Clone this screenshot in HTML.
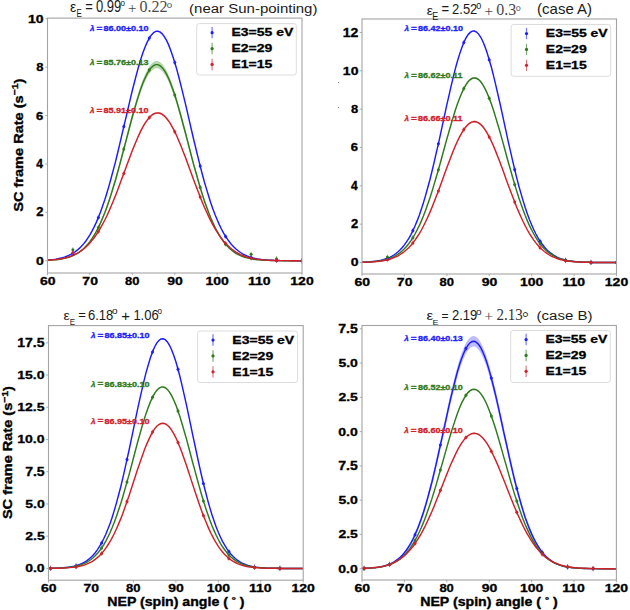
<!DOCTYPE html><html><head><meta charset="utf-8"><style>html,body{margin:0;padding:0;background:#fff;}svg{display:block}</style></head><body><svg width="630" height="610" viewBox="0 0 630 610"><rect width="630" height="610" fill="#fff"/><clipPath id="cTL"><rect x="47.5" y="18.1" width="254.5" height="254.9"/></clipPath>
<g clip-path="url(#cTL)">
<path d="M47.5,260 49.6,259.8 51.7,259.6 53.9,259.4 56,259 58.1,258.7 60.2,258.2 62.3,257.7 64.5,257 66.6,256.3 68.7,255.4 70.8,254.4 72.9,253.2 75.1,251.8 77.2,250.2 79.3,248.3 81.4,246.2 83.6,243.8 85.7,241.2 87.8,238.1 89.9,234.7 92,231 94.2,226.8 96.3,222.3 98.4,217.2 100.5,211.8 102.6,205.9 104.8,199.6 106.9,192.8 109,185.6 111.1,178 113.2,170.1 115.4,161.8 117.5,153.2 119.6,144.3 121.7,135.3 123.8,126.2 126,117 128.1,107.8 130.2,98.8 132.3,90 134.5,81.5 136.6,73.3 138.7,65.6 140.8,58.5 142.9,52.1 145.1,46.4 147.2,41.4 149.3,37.4 151.4,34.2 153.5,31.9 155.7,30.7 157.8,30.4 159.9,31.2 162,32.9 164.1,35.6 166.3,39.2 168.4,43.7 170.5,49 172.6,55.1 174.8,61.9 176.9,69.3 179,77.2 181.1,85.5 183.2,94.2 185.4,103.1 187.5,112.2 189.6,121.4 191.7,130.6 193.8,139.7 196,148.6 198.1,157.3 200.2,165.8 202.3,174 204.4,181.7 206.6,189.1 208.7,196.1 210.8,202.7 212.9,208.8 215,214.5 217.2,219.7 219.3,224.5 221.4,228.9 223.5,232.8 225.6,236.4 227.8,239.6 229.9,242.5 232,245 234.1,247.3 236.3,249.2 238.4,251 240.5,252.5 242.6,253.8 244.7,254.9 246.9,255.9 249,256.7 251.1,257.4 253.2,258 255.3,258.4 257.5,258.9 259.6,259.2 261.7,259.5 263.8,259.7 265.9,259.9 268.1,260.1 270.2,260.2 272.3,260.3 274.4,260.4 276.5,260.5 278.7,260.5 280.8,260.6 282.9,260.6 285,260.6 287.2,260.6 289.3,260.6 291.4,260.7 293.5,260.7 295.6,260.7 297.8,260.7 299.9,260.7 302,260.7 302,260.7 299.9,260.7 297.8,260.7 295.6,260.7 293.5,260.7 291.4,260.7 289.3,260.6 287.2,260.6 285,260.6 282.9,260.6 280.8,260.6 278.7,260.5 276.5,260.5 274.4,260.4 272.3,260.3 270.2,260.2 268.1,260.1 265.9,259.9 263.8,259.7 261.7,259.5 259.6,259.2 257.5,258.9 255.3,258.5 253.2,258 251.1,257.4 249,256.7 246.9,255.9 244.7,254.9 242.6,253.8 240.5,252.5 238.4,251 236.3,249.3 234.1,247.4 232,245.1 229.9,242.6 227.8,239.8 225.6,236.6 223.5,233 221.4,229.1 219.3,224.7 217.2,220 215,214.8 212.9,209.1 210.8,203.1 208.7,196.5 206.6,189.6 204.4,182.2 202.3,174.5 200.2,166.4 198.1,158 196,149.3 193.8,140.4 191.7,131.4 189.6,122.3 187.5,113.1 185.4,104.1 183.2,95.2 181.1,86.6 179,78.3 176.9,70.5 174.8,63.1 172.6,56.4 170.5,50.4 168.4,45.1 166.3,40.6 164.1,37 162,34.3 159.9,32.6 157.8,31.9 155.7,32.1 153.5,33.4 151.4,35.6 149.3,38.8 147.2,42.8 145.1,47.7 142.9,53.4 140.8,59.8 138.7,66.9 136.6,74.5 134.5,82.6 132.3,91.1 130.2,99.8 128.1,108.8 126,117.9 123.8,127 121.7,136.1 119.6,145.1 117.5,153.9 115.4,162.4 113.2,170.7 111.1,178.6 109,186.1 106.9,193.3 104.8,200 102.6,206.3 100.5,212.1 98.4,217.5 96.3,222.5 94.2,227 92,231.2 89.9,234.9 87.8,238.3 85.7,241.3 83.6,244 81.4,246.3 79.3,248.4 77.2,250.2 75.1,251.8 72.9,253.2 70.8,254.4 68.7,255.4 66.6,256.3 64.5,257.1 62.3,257.7 60.2,258.2 58.1,258.7 56,259.1 53.9,259.4 51.7,259.6 49.6,259.8 47.5,260Z" fill="#b2b2fc" opacity="0.85"/>
<path d="M47.5,260.3 49.6,260.2 51.7,260 53.9,259.8 56,259.6 58.1,259.4 60.2,259 62.3,258.7 64.5,258.2 66.6,257.6 68.7,257 70.8,256.2 72.9,255.3 75.1,254.2 77.2,253 79.3,251.5 81.4,249.9 83.6,248 85.7,245.8 87.8,243.4 89.9,240.6 92,237.5 94.2,234 96.3,230.2 98.4,226 100.5,221.4 102.6,216.3 104.8,210.9 106.9,205 109,198.8 111.1,192.1 113.2,185.1 115.4,177.8 117.5,170.2 119.6,162.3 121.7,154.3 123.8,146.1 126,137.9 128.1,129.6 130.2,121.5 132.3,113.6 134.5,105.9 136.6,98.5 138.7,91.7 140.8,85.3 142.9,79.5 145.1,74.4 147.2,70 149.3,66.5 151.4,63.8 153.5,61.9 155.7,61 157.8,61 159.9,61.9 162,63.8 164.1,66.5 166.3,70 168.4,74.4 170.5,79.5 172.6,85.3 174.8,91.7 176.9,98.5 179,105.9 181.1,113.6 183.2,121.5 185.4,129.6 187.5,137.9 189.6,146.1 191.7,154.3 193.8,162.3 196,170.2 198.1,177.8 200.2,185.1 202.3,192.1 204.4,198.8 206.6,205 208.7,210.9 210.8,216.3 212.9,221.4 215,226 217.2,230.2 219.3,234 221.4,237.5 223.5,240.6 225.6,243.4 227.8,245.8 229.9,248 232,249.9 234.1,251.5 236.3,253 238.4,254.2 240.5,255.3 242.6,256.2 244.7,257 246.9,257.6 249,258.2 251.1,258.7 253.2,259 255.3,259.4 257.5,259.6 259.6,259.8 261.7,260 263.8,260.2 265.9,260.3 268.1,260.4 270.2,260.4 272.3,260.5 274.4,260.5 276.5,260.6 278.7,260.6 280.8,260.6 282.9,260.6 285,260.7 287.2,260.7 289.3,260.7 291.4,260.7 293.5,260.7 295.6,260.7 297.8,260.7 299.9,260.7 302,260.7 302,260.7 299.9,260.7 297.8,260.7 295.6,260.7 293.5,260.7 291.4,260.7 289.3,260.7 287.2,260.7 285,260.7 282.9,260.7 280.8,260.6 278.7,260.6 276.5,260.6 274.4,260.6 272.3,260.5 270.2,260.5 268.1,260.4 265.9,260.3 263.8,260.3 261.7,260.1 259.6,260 257.5,259.8 255.3,259.6 253.2,259.3 251.1,259 249,258.6 246.9,258.1 244.7,257.5 242.6,256.8 240.5,256 238.4,255 236.3,253.9 234.1,252.6 232,251.1 229.9,249.3 227.8,247.3 225.6,245.1 223.5,242.5 221.4,239.6 219.3,236.4 217.2,232.8 215,228.8 212.9,224.5 210.8,219.7 208.7,214.5 206.6,208.9 204.4,202.9 202.3,196.6 200.2,189.8 198.1,182.7 196,175.4 193.8,167.7 191.7,159.9 189.6,152 187.5,143.9 185.4,135.9 183.2,127.9 181.1,120.1 179,112.6 176.9,105.3 174.8,98.5 172.6,92.3 170.5,86.6 168.4,81.5 166.3,77.2 164.1,73.7 162,71 159.9,69.2 157.8,68.3 155.7,68.3 153.5,69.2 151.4,71 149.3,73.7 147.2,77.2 145.1,81.5 142.9,86.6 140.8,92.3 138.7,98.5 136.6,105.3 134.5,112.6 132.3,120.1 130.2,127.9 128.1,135.9 126,143.9 123.8,152 121.7,159.9 119.6,167.7 117.5,175.4 115.4,182.7 113.2,189.8 111.1,196.6 109,202.9 106.9,208.9 104.8,214.5 102.6,219.7 100.5,224.5 98.4,228.8 96.3,232.8 94.2,236.4 92,239.6 89.9,242.5 87.8,245.1 85.7,247.3 83.6,249.3 81.4,251.1 79.3,252.6 77.2,253.9 75.1,255 72.9,256 70.8,256.8 68.7,257.5 66.6,258.1 64.5,258.6 62.3,259 60.2,259.3 58.1,259.6 56,259.8 53.9,260 51.7,260.1 49.6,260.3 47.5,260.3Z" fill="#a9cf9c" opacity="0.85"/>
<path d="M47.5,260.2 49.6,260 51.7,259.9 53.9,259.7 56,259.4 58.1,259.2 60.2,258.8 62.3,258.5 64.5,258 66.6,257.5 68.7,256.8 70.8,256.1 72.9,255.3 75.1,254.3 77.2,253.2 79.3,252 81.4,250.5 83.6,248.9 85.7,247.1 87.8,245.1 89.9,242.8 92,240.3 94.2,237.6 96.3,234.5 98.4,231.3 100.5,227.7 102.6,223.9 104.8,219.8 106.9,215.4 109,210.8 111.1,205.9 113.2,200.8 115.4,195.4 117.5,190 119.6,184.3 121.7,178.6 123.8,172.8 126,167 128.1,161.2 130.2,155.5 132.3,149.9 134.5,144.5 136.6,139.4 138.7,134.5 140.8,130.1 142.9,126 145.1,122.3 147.2,119.2 149.3,116.6 151.4,114.5 153.5,113 155.7,112.2 157.8,111.9 159.9,112.3 162,113.3 164.1,114.9 166.3,117 168.4,119.8 170.5,123 172.6,126.7 174.8,130.9 176.9,135.5 179,140.4 181.1,145.6 183.2,151 185.4,156.6 187.5,162.3 189.6,168.1 191.7,174 193.8,179.7 196,185.5 198.1,191.1 200.2,196.5 202.3,201.8 204.4,206.9 206.6,211.7 208.7,216.3 210.8,220.6 212.9,224.7 215,228.4 217.2,231.9 219.3,235.2 221.4,238.1 223.5,240.8 225.6,243.3 227.8,245.5 229.9,247.5 232,249.2 234.1,250.8 236.3,252.2 238.4,253.4 240.5,254.5 242.6,255.5 244.7,256.3 246.9,257 249,257.6 251.1,258.1 253.2,258.5 255.3,258.9 257.5,259.2 259.6,259.5 261.7,259.7 263.8,259.9 265.9,260.1 268.1,260.2 270.2,260.3 272.3,260.4 274.4,260.4 276.5,260.5 278.7,260.5 280.8,260.6 282.9,260.6 285,260.6 287.2,260.6 289.3,260.7 291.4,260.7 293.5,260.7 295.6,260.7 297.8,260.7 299.9,260.7 302,260.7 302,260.7 299.9,260.7 297.8,260.7 295.6,260.7 293.5,260.7 291.4,260.7 289.3,260.7 287.2,260.6 285,260.6 282.9,260.6 280.8,260.6 278.7,260.5 276.5,260.5 274.4,260.4 272.3,260.4 270.2,260.3 268.1,260.2 265.9,260.1 263.8,259.9 261.7,259.7 259.6,259.5 257.5,259.2 255.3,258.9 253.2,258.6 251.1,258.1 249,257.6 246.9,257 244.7,256.3 242.6,255.5 240.5,254.6 238.4,253.5 236.3,252.3 234.1,251 232,249.4 229.9,247.6 227.8,245.7 225.6,243.5 223.5,241.1 221.4,238.4 219.3,235.5 217.2,232.3 215,228.9 212.9,225.1 210.8,221.1 208.7,216.9 206.6,212.3 204.4,207.6 202.3,202.6 200.2,197.4 198.1,192 196,186.4 193.8,180.8 191.7,175.1 189.6,169.3 187.5,163.6 185.4,158 183.2,152.4 181.1,147.1 179,142 176.9,137.1 174.8,132.6 172.6,128.5 170.5,124.8 168.4,121.6 166.3,118.9 164.1,116.8 162,115.2 159.9,114.2 157.8,113.9 155.7,114.1 153.5,115 151.4,116.4 149.3,118.4 147.2,121 145.1,124.1 142.9,127.7 140.8,131.8 138.7,136.2 136.6,141 134.5,146 132.3,151.3 130.2,156.8 128.1,162.5 126,168.2 123.8,173.9 121.7,179.7 119.6,185.3 117.5,190.9 115.4,196.3 113.2,201.5 111.1,206.6 109,211.4 106.9,216 104.8,220.3 102.6,224.3 100.5,228.1 98.4,231.6 96.3,234.9 94.2,237.9 92,240.6 89.9,243 87.8,245.3 85.7,247.3 83.6,249.1 81.4,250.7 79.3,252.1 77.2,253.3 75.1,254.4 72.9,255.4 70.8,256.2 68.7,256.9 66.6,257.5 64.5,258 62.3,258.5 60.2,258.9 58.1,259.2 56,259.5 53.9,259.7 51.7,259.9 49.6,260 47.5,260.2Z" fill="#eea7a7" opacity="0.85"/>
<path d="M47.5,260 49.6,259.8 51.7,259.6 53.9,259.4 56,259.1 58.1,258.7 60.2,258.2 62.3,257.7 64.5,257.1 66.6,256.3 68.7,255.4 70.8,254.4 72.9,253.2 75.1,251.8 77.2,250.2 79.3,248.4 81.4,246.3 83.6,243.9 85.7,241.2 87.8,238.2 89.9,234.8 92,231.1 94.2,226.9 96.3,222.4 98.4,217.4 100.5,212 102.6,206.1 104.8,199.8 106.9,193 109,185.9 111.1,178.3 113.2,170.4 115.4,162.1 117.5,153.5 119.6,144.7 121.7,135.7 123.8,126.6 126,117.4 128.1,108.3 130.2,99.3 132.3,90.5 134.5,82 136.6,73.9 138.7,66.3 140.8,59.2 142.9,52.8 145.1,47 147.2,42.1 149.3,38.1 151.4,34.9 153.5,32.7 155.7,31.4 157.8,31.2 159.9,31.9 162,33.6 164.1,36.3 166.3,39.9 168.4,44.4 170.5,49.7 172.6,55.8 174.8,62.5 176.9,69.9 179,77.7 181.1,86.1 183.2,94.7 185.4,103.6 187.5,112.7 189.6,121.8 191.7,131 193.8,140 196,149 198.1,157.7 200.2,166.1 202.3,174.2 204.4,182 206.6,189.4 208.7,196.3 210.8,202.9 212.9,209 215,214.6 217.2,219.8 219.3,224.6 221.4,229 223.5,232.9 225.6,236.5 227.8,239.7 229.9,242.5 232,245.1 234.1,247.3 236.3,249.3 238.4,251 240.5,252.5 242.6,253.8 244.7,254.9 246.9,255.9 249,256.7 251.1,257.4 253.2,258 255.3,258.5 257.5,258.9 259.6,259.2 261.7,259.5 263.8,259.7 265.9,259.9 268.1,260.1 270.2,260.2 272.3,260.3 274.4,260.4 276.5,260.5 278.7,260.5 280.8,260.6 282.9,260.6 285,260.6 287.2,260.6 289.3,260.6 291.4,260.7 293.5,260.7 295.6,260.7 297.8,260.7 299.9,260.7 302,260.7" fill="none" stroke="#1c1cff" stroke-width="1.45"/>
<path d="M47.5,260.3 49.6,260.2 51.7,260.1 53.9,259.9 56,259.7 58.1,259.5 60.2,259.2 62.3,258.8 64.5,258.4 66.6,257.9 68.7,257.2 70.8,256.5 72.9,255.7 75.1,254.6 77.2,253.5 79.3,252.1 81.4,250.5 83.6,248.7 85.7,246.6 87.8,244.2 89.9,241.6 92,238.6 94.2,235.2 96.3,231.5 98.4,227.4 100.5,222.9 102.6,218 104.8,212.7 106.9,207 109,200.9 111.1,194.4 113.2,187.5 115.4,180.3 117.5,172.8 119.6,165.1 121.7,157.1 123.8,149 126,140.9 128.1,132.8 130.2,124.7 132.3,116.8 134.5,109.2 136.6,101.9 138.7,95.1 140.8,88.8 142.9,83 145.1,78 147.2,73.6 149.3,70.1 151.4,67.4 153.5,65.6 155.7,64.6 157.8,64.6 159.9,65.6 162,67.4 164.1,70.1 166.3,73.6 168.4,78 170.5,83 172.6,88.8 174.8,95.1 176.9,101.9 179,109.2 181.1,116.8 183.2,124.7 185.4,132.8 187.5,140.9 189.6,149 191.7,157.1 193.8,165.1 196,172.8 198.1,180.3 200.2,187.5 202.3,194.4 204.4,200.9 206.6,207 208.7,212.7 210.8,218 212.9,222.9 215,227.4 217.2,231.5 219.3,235.2 221.4,238.6 223.5,241.6 225.6,244.2 227.8,246.6 229.9,248.7 232,250.5 234.1,252.1 236.3,253.5 238.4,254.6 240.5,255.7 242.6,256.5 244.7,257.2 246.9,257.9 249,258.4 251.1,258.8 253.2,259.2 255.3,259.5 257.5,259.7 259.6,259.9 261.7,260.1 263.8,260.2 265.9,260.3 268.1,260.4 270.2,260.5 272.3,260.5 274.4,260.6 276.5,260.6 278.7,260.6 280.8,260.6 282.9,260.7 285,260.7 287.2,260.7 289.3,260.7 291.4,260.7 293.5,260.7 295.6,260.7 297.8,260.7 299.9,260.7 302,260.7" fill="none" stroke="#2f7a1c" stroke-width="1.45"/>
<path d="M47.5,260.2 49.6,260 51.7,259.9 53.9,259.7 56,259.5 58.1,259.2 60.2,258.9 62.3,258.5 64.5,258 66.6,257.5 68.7,256.9 70.8,256.2 72.9,255.3 75.1,254.4 77.2,253.3 79.3,252 81.4,250.6 83.6,249 85.7,247.2 87.8,245.2 89.9,242.9 92,240.4 94.2,237.7 96.3,234.7 98.4,231.5 100.5,227.9 102.6,224.1 104.8,220 106.9,215.7 109,211.1 111.1,206.2 113.2,201.2 115.4,195.9 117.5,190.4 119.6,184.8 121.7,179.1 123.8,173.4 126,167.6 128.1,161.8 130.2,156.2 132.3,150.6 134.5,145.3 136.6,140.2 138.7,135.4 140.8,130.9 142.9,126.8 145.1,123.2 147.2,120.1 149.3,117.5 151.4,115.5 153.5,114 155.7,113.1 157.8,112.9 159.9,113.3 162,114.2 164.1,115.8 166.3,118 168.4,120.7 170.5,123.9 172.6,127.6 174.8,131.8 176.9,136.3 179,141.2 181.1,146.3 183.2,151.7 185.4,157.3 187.5,163 189.6,168.7 191.7,174.5 193.8,180.3 196,186 198.1,191.5 200.2,196.9 202.3,202.2 204.4,207.2 206.6,212 208.7,216.6 210.8,220.9 212.9,224.9 215,228.6 217.2,232.1 219.3,235.3 221.4,238.3 223.5,241 225.6,243.4 227.8,245.6 229.9,247.6 232,249.3 234.1,250.9 236.3,252.3 238.4,253.5 240.5,254.6 242.6,255.5 244.7,256.3 246.9,257 249,257.6 251.1,258.1 253.2,258.6 255.3,258.9 257.5,259.2 259.6,259.5 261.7,259.7 263.8,259.9 265.9,260.1 268.1,260.2 270.2,260.3 272.3,260.4 274.4,260.4 276.5,260.5 278.7,260.5 280.8,260.6 282.9,260.6 285,260.6 287.2,260.6 289.3,260.7 291.4,260.7 293.5,260.7 295.6,260.7 297.8,260.7 299.9,260.7 302,260.7" fill="none" stroke="#d0202a" stroke-width="1.45"/>
<path d="M72.9,250.7V255.7" stroke="#1c1cff" stroke-width="0.8" opacity="0.6"/><circle cx="72.9" cy="253.2" r="1.5" fill="#1c1cff"/>
<path d="M98.4,214.9V219.9" stroke="#1c1cff" stroke-width="0.8" opacity="0.6"/><circle cx="98.4" cy="217.4" r="1.5" fill="#1c1cff"/>
<path d="M123.8,124.1V129.1" stroke="#1c1cff" stroke-width="0.8" opacity="0.6"/><circle cx="123.8" cy="126.6" r="1.5" fill="#1c1cff"/>
<path d="M149.3,35.6V40.6" stroke="#1c1cff" stroke-width="0.8" opacity="0.6"/><circle cx="149.3" cy="38.1" r="1.5" fill="#1c1cff"/>
<path d="M174.8,60V65" stroke="#1c1cff" stroke-width="0.8" opacity="0.6"/><circle cx="174.8" cy="62.5" r="1.5" fill="#1c1cff"/>
<path d="M200.2,163.6V168.6" stroke="#1c1cff" stroke-width="0.8" opacity="0.6"/><circle cx="200.2" cy="166.1" r="1.5" fill="#1c1cff"/>
<path d="M225.6,234V239" stroke="#1c1cff" stroke-width="0.8" opacity="0.6"/><circle cx="225.6" cy="236.5" r="1.5" fill="#1c1cff"/>
<path d="M251.1,254.9V259.9" stroke="#1c1cff" stroke-width="0.8" opacity="0.6"/><circle cx="251.1" cy="257.4" r="1.5" fill="#1c1cff"/>
<path d="M276.5,258V263" stroke="#1c1cff" stroke-width="0.8" opacity="0.6"/><circle cx="276.5" cy="260.5" r="1.5" fill="#1c1cff"/>
<path d="M302,258.2V263.2" stroke="#1c1cff" stroke-width="0.8" opacity="0.6"/><circle cx="302" cy="260.7" r="1.5" fill="#1c1cff"/>
<path d="M72.9,247.3V252.3" stroke="#2f7a1c" stroke-width="0.8" opacity="0.6"/><circle cx="72.9" cy="249.8" r="1.5" fill="#2f7a1c"/>
<path d="M98.4,224.9V229.9" stroke="#2f7a1c" stroke-width="0.8" opacity="0.6"/><circle cx="98.4" cy="227.4" r="1.5" fill="#2f7a1c"/>
<path d="M123.8,146.5V151.5" stroke="#2f7a1c" stroke-width="0.8" opacity="0.6"/><circle cx="123.8" cy="149" r="1.5" fill="#2f7a1c"/>
<path d="M149.3,67.6V72.6" stroke="#2f7a1c" stroke-width="0.8" opacity="0.6"/><circle cx="149.3" cy="70.1" r="1.5" fill="#2f7a1c"/>
<path d="M174.8,92.6V97.6" stroke="#2f7a1c" stroke-width="0.8" opacity="0.6"/><circle cx="174.8" cy="95.1" r="1.5" fill="#2f7a1c"/>
<path d="M200.2,185V190" stroke="#2f7a1c" stroke-width="0.8" opacity="0.6"/><circle cx="200.2" cy="187.5" r="1.5" fill="#2f7a1c"/>
<path d="M225.6,241.7V246.7" stroke="#2f7a1c" stroke-width="0.8" opacity="0.6"/><circle cx="225.6" cy="244.2" r="1.5" fill="#2f7a1c"/>
<path d="M251.1,251.7V256.7" stroke="#2f7a1c" stroke-width="0.8" opacity="0.6"/><circle cx="251.1" cy="254.2" r="1.5" fill="#2f7a1c"/>
<path d="M276.5,256.2V261.2" stroke="#2f7a1c" stroke-width="0.8" opacity="0.6"/><circle cx="276.5" cy="258.7" r="1.5" fill="#2f7a1c"/>
<path d="M302,258.2V263.2" stroke="#2f7a1c" stroke-width="0.8" opacity="0.6"/><circle cx="302" cy="260.7" r="1.5" fill="#2f7a1c"/>
<path d="M72.9,250.3V255.3" stroke="#d0202a" stroke-width="0.8" opacity="0.6"/><circle cx="72.9" cy="252.8" r="1.5" fill="#d0202a"/>
<path d="M98.4,229V234" stroke="#d0202a" stroke-width="0.8" opacity="0.6"/><circle cx="98.4" cy="231.5" r="1.5" fill="#d0202a"/>
<path d="M123.8,170.9V175.9" stroke="#d0202a" stroke-width="0.8" opacity="0.6"/><circle cx="123.8" cy="173.4" r="1.5" fill="#d0202a"/>
<path d="M149.3,115V120" stroke="#d0202a" stroke-width="0.8" opacity="0.6"/><circle cx="149.3" cy="117.5" r="1.5" fill="#d0202a"/>
<path d="M174.8,129.3V134.3" stroke="#d0202a" stroke-width="0.8" opacity="0.6"/><circle cx="174.8" cy="131.8" r="1.5" fill="#d0202a"/>
<path d="M200.2,194.4V199.4" stroke="#d0202a" stroke-width="0.8" opacity="0.6"/><circle cx="200.2" cy="196.9" r="1.5" fill="#d0202a"/>
<path d="M225.6,240.9V245.9" stroke="#d0202a" stroke-width="0.8" opacity="0.6"/><circle cx="225.6" cy="243.4" r="1.5" fill="#d0202a"/>
<path d="M251.1,255.6V260.6" stroke="#d0202a" stroke-width="0.8" opacity="0.6"/><circle cx="251.1" cy="258.1" r="1.5" fill="#d0202a"/>
<path d="M276.5,258V263" stroke="#d0202a" stroke-width="0.8" opacity="0.6"/><circle cx="276.5" cy="260.5" r="1.5" fill="#d0202a"/>
<path d="M302,258.2V263.2" stroke="#d0202a" stroke-width="0.8" opacity="0.6"/><circle cx="302" cy="260.7" r="1.5" fill="#d0202a"/>
</g>
<rect x="47.5" y="18.1" width="254.5" height="254.9" fill="none" stroke="#a4a4a4" stroke-width="1.1"/>
<path d="M47.5,273V275.2" stroke="#a4a4a4" stroke-width="0.9"/>
<path d="M89.92,273V275.2" stroke="#a4a4a4" stroke-width="0.9"/>
<path d="M132.33,273V275.2" stroke="#a4a4a4" stroke-width="0.9"/>
<path d="M174.75,273V275.2" stroke="#a4a4a4" stroke-width="0.9"/>
<path d="M217.17,273V275.2" stroke="#a4a4a4" stroke-width="0.9"/>
<path d="M259.58,273V275.2" stroke="#a4a4a4" stroke-width="0.9"/>
<path d="M302,273V275.2" stroke="#a4a4a4" stroke-width="0.9"/>
<path d="M45.3,260.7H47.5" stroke="#a4a4a4" stroke-width="0.9"/>
<path d="M45.3,212.32H47.5" stroke="#a4a4a4" stroke-width="0.9"/>
<path d="M45.3,163.94H47.5" stroke="#a4a4a4" stroke-width="0.9"/>
<path d="M45.3,115.56H47.5" stroke="#a4a4a4" stroke-width="0.9"/>
<path d="M45.3,67.18H47.5" stroke="#a4a4a4" stroke-width="0.9"/>
<path d="M45.3,18.8H47.5" stroke="#a4a4a4" stroke-width="0.9"/>
<rect x="196.7" y="23.6" width="99.6" height="51.4" rx="2.5" fill="#fff" fill-opacity="0.8" stroke="#dcdcdc" stroke-width="1"/>
<path d="M212.1,26.95V38.35" stroke="#1c1cff" stroke-width="1.2" opacity="0.6"/><circle cx="212.1" cy="32.65" r="1.6" fill="#1c1cff"/>
<path d="M212.1,42.85V54.25" stroke="#2f7a1c" stroke-width="1.2" opacity="0.6"/><circle cx="212.1" cy="48.55" r="1.6" fill="#2f7a1c"/>
<path d="M212.1,58.75V70.15" stroke="#d0202a" stroke-width="1.2" opacity="0.6"/><circle cx="212.1" cy="64.45" r="1.6" fill="#d0202a"/>
<clipPath id="cTR"><rect x="362" y="19" width="254.5" height="255"/></clipPath>
<g clip-path="url(#cTR)">
<path d="M362,262.2 364.1,262.1 366.2,262 368.4,261.9 370.5,261.7 372.6,261.5 374.7,261.3 376.8,261 379,260.6 381.1,260.2 383.2,259.7 385.3,259 387.4,258.2 389.6,257.3 391.7,256.2 393.8,255 395.9,253.5 398.1,251.8 400.2,249.8 402.3,247.5 404.4,244.9 406.5,241.9 408.7,238.5 410.8,234.8 412.9,230.6 415,225.9 417.1,220.7 419.3,215.1 421.4,209 423.5,202.3 425.6,195.2 427.7,187.6 429.9,179.5 432,171 434.1,162.2 436.2,153 438.4,143.5 440.5,133.8 442.6,124 444.7,114.2 446.8,104.5 449,95 451.1,85.7 453.2,76.8 455.3,68.5 457.4,60.7 459.6,53.6 461.7,47.3 463.8,42 465.9,37.5 468,34.1 470.2,31.8 472.3,30.6 474.4,30.4 476.5,31.5 478.6,33.6 480.8,36.8 482.9,41 485,46.2 487.1,52.3 489.2,59.2 491.4,66.9 493.5,75.1 495.6,83.9 497.7,93.1 499.9,102.6 502,112.3 504.1,122.1 506.2,131.9 508.3,141.6 510.5,151.1 512.6,160.3 514.7,169.3 516.8,177.9 518.9,186 521.1,193.7 523.2,201 525.3,207.7 527.4,213.9 529.5,219.7 531.7,224.9 533.8,229.7 535.9,234 538,237.8 540.1,241.2 542.3,244.3 544.4,247 546.5,249.3 548.6,251.4 550.8,253.2 552.9,254.7 555,256 557.1,257.1 559.2,258.1 561.4,258.9 563.5,259.5 565.6,260.1 567.7,260.6 569.8,260.9 572,261.2 574.1,261.5 576.2,261.7 578.3,261.9 580.4,262 582.6,262.1 584.7,262.2 586.8,262.3 588.9,262.3 591,262.4 593.2,262.4 595.3,262.4 597.4,262.4 599.5,262.5 601.7,262.5 603.8,262.5 605.9,262.5 608,262.5 610.1,262.5 612.3,262.5 614.4,262.5 616.5,262.5 616.5,262.5 614.4,262.5 612.3,262.5 610.1,262.5 608,262.5 605.9,262.5 603.8,262.5 601.7,262.5 599.5,262.5 597.4,262.4 595.3,262.4 593.2,262.4 591,262.4 588.9,262.3 586.8,262.3 584.7,262.2 582.6,262.1 580.4,262 578.3,261.9 576.2,261.7 574.1,261.5 572,261.3 569.8,260.9 567.7,260.6 565.6,260.1 563.5,259.5 561.4,258.9 559.2,258.1 557.1,257.1 555,256 552.9,254.7 550.8,253.2 548.6,251.4 546.5,249.4 544.4,247.1 542.3,244.4 540.1,241.3 538,237.9 535.9,234.1 533.8,229.8 531.7,225.1 529.5,219.9 527.4,214.2 525.3,208 523.2,201.3 521.1,194.1 518.9,186.4 516.8,178.3 514.7,169.8 512.6,160.9 510.5,151.6 508.3,142.2 506.2,132.5 504.1,122.8 502,113 499.9,103.4 497.7,93.9 495.6,84.8 493.5,76 491.4,67.8 489.2,60.2 487.1,53.3 485,47.3 482.9,42.1 480.8,37.9 478.6,34.7 476.5,32.6 474.4,31.6 472.3,31.7 470.2,32.9 468,35.3 465.9,38.6 463.8,43.1 461.7,48.4 459.6,54.7 457.4,61.7 455.3,69.4 453.2,77.8 451.1,86.6 449,95.8 446.8,105.3 444.7,115 442.6,124.7 440.5,134.5 438.4,144.1 436.2,153.5 434.1,162.7 432,171.5 429.9,179.9 427.7,188 425.6,195.5 423.5,202.6 421.4,209.2 419.3,215.3 417.1,221 415,226.1 412.9,230.7 410.8,234.9 408.7,238.6 406.5,242 404.4,244.9 402.3,247.5 400.2,249.8 398.1,251.8 395.9,253.5 393.8,255 391.7,256.3 389.6,257.3 387.4,258.3 385.3,259 383.2,259.7 381.1,260.2 379,260.6 376.8,261 374.7,261.3 372.6,261.6 370.5,261.7 368.4,261.9 366.2,262 364.1,262.1 362,262.2Z" fill="#b2b2fc" opacity="0.85"/>
<path d="M362,262.3 364.1,262.2 366.2,262.1 368.4,262 370.5,261.9 372.6,261.7 374.7,261.5 376.8,261.3 379,261 381.1,260.7 383.2,260.2 385.3,259.7 387.4,259.1 389.6,258.4 391.7,257.6 393.8,256.6 395.9,255.4 398.1,254.1 400.2,252.5 402.3,250.7 404.4,248.7 406.5,246.4 408.7,243.7 410.8,240.8 412.9,237.5 415,233.9 417.1,229.9 419.3,225.5 421.4,220.7 423.5,215.5 425.6,209.9 427.7,204 429.9,197.7 432,191 434.1,184 436.2,176.8 438.4,169.3 440.5,161.7 442.6,154 444.7,146.2 446.8,138.5 449,130.9 451.1,123.4 453.2,116.3 455.3,109.5 457.4,103.2 459.6,97.4 461.7,92.2 463.8,87.7 465.9,83.9 468,80.9 470.2,78.7 472.3,77.4 474.4,76.9 476.5,77.4 478.6,78.7 480.8,80.9 482.9,83.9 485,87.7 487.1,92.2 489.2,97.4 491.4,103.2 493.5,109.5 495.6,116.3 497.7,123.4 499.9,130.9 502,138.5 504.1,146.2 506.2,154 508.3,161.7 510.5,169.3 512.6,176.8 514.7,184 516.8,191 518.9,197.7 521.1,204 523.2,209.9 525.3,215.5 527.4,220.7 529.5,225.5 531.7,229.9 533.8,233.9 535.9,237.5 538,240.8 540.1,243.7 542.3,246.4 544.4,248.7 546.5,250.7 548.6,252.5 550.8,254.1 552.9,255.4 555,256.6 557.1,257.6 559.2,258.4 561.4,259.1 563.5,259.7 565.6,260.2 567.7,260.7 569.8,261 572,261.3 574.1,261.5 576.2,261.7 578.3,261.9 580.4,262 582.6,262.1 584.7,262.2 586.8,262.3 588.9,262.3 591,262.4 593.2,262.4 595.3,262.4 597.4,262.4 599.5,262.5 601.7,262.5 603.8,262.5 605.9,262.5 608,262.5 610.1,262.5 612.3,262.5 614.4,262.5 616.5,262.5 616.5,262.5 614.4,262.5 612.3,262.5 610.1,262.5 608,262.5 605.9,262.5 603.8,262.5 601.7,262.5 599.5,262.5 597.4,262.4 595.3,262.4 593.2,262.4 591,262.4 588.9,262.3 586.8,262.3 584.7,262.2 582.6,262.1 580.4,262 578.3,261.9 576.2,261.7 574.1,261.6 572,261.3 569.8,261 567.7,260.7 565.6,260.3 563.5,259.8 561.4,259.2 559.2,258.5 557.1,257.6 555,256.6 552.9,255.5 550.8,254.1 548.6,252.6 546.5,250.8 544.4,248.8 542.3,246.5 540.1,243.9 538,241 535.9,237.8 533.8,234.2 531.7,230.2 529.5,225.9 527.4,221.1 525.3,216 523.2,210.5 521.1,204.6 518.9,198.3 516.8,191.8 514.7,184.9 512.6,177.7 510.5,170.3 508.3,162.8 506.2,155.1 504.1,147.4 502,139.8 499.9,132.2 497.7,124.9 495.6,117.8 493.5,111.1 491.4,104.8 489.2,99.1 487.1,94 485,89.5 482.9,85.7 480.8,82.8 478.6,80.6 476.5,79.3 474.4,78.9 472.3,79.3 470.2,80.6 468,82.8 465.9,85.7 463.8,89.5 461.7,94 459.6,99.1 457.4,104.8 455.3,111.1 453.2,117.8 451.1,124.9 449,132.2 446.8,139.8 444.7,147.4 442.6,155.1 440.5,162.8 438.4,170.3 436.2,177.7 434.1,184.9 432,191.8 429.9,198.3 427.7,204.6 425.6,210.5 423.5,216 421.4,221.1 419.3,225.9 417.1,230.2 415,234.2 412.9,237.8 410.8,241 408.7,243.9 406.5,246.5 404.4,248.8 402.3,250.8 400.2,252.6 398.1,254.1 395.9,255.5 393.8,256.6 391.7,257.6 389.6,258.5 387.4,259.2 385.3,259.8 383.2,260.3 381.1,260.7 379,261 376.8,261.3 374.7,261.6 372.6,261.7 370.5,261.9 368.4,262 366.2,262.1 364.1,262.2 362,262.3Z" fill="#a9cf9c" opacity="0.85"/>
<path d="M362,262.3 364.1,262.3 366.2,262.2 368.4,262.1 370.5,262 372.6,261.9 374.7,261.7 376.8,261.5 379,261.3 381.1,261 383.2,260.6 385.3,260.2 387.4,259.7 389.6,259.2 391.7,258.5 393.8,257.7 395.9,256.8 398.1,255.7 400.2,254.5 402.3,253.1 404.4,251.5 406.5,249.7 408.7,247.6 410.8,245.3 412.9,242.8 415,239.9 417.1,236.8 419.3,233.4 421.4,229.8 423.5,225.8 425.6,221.5 427.7,216.9 429.9,212.1 432,207 434.1,201.7 436.2,196.2 438.4,190.5 440.5,184.7 442.6,178.8 444.7,172.9 446.8,167.1 449,161.3 451.1,155.7 453.2,150.3 455.3,145.2 457.4,140.4 459.6,136 461.7,132.1 463.8,128.7 465.9,125.9 468,123.6 470.2,122 472.3,121 474.4,120.6 476.5,121 478.6,122 480.8,123.6 482.9,125.9 485,128.7 487.1,132.1 489.2,136 491.4,140.4 493.5,145.2 495.6,150.3 497.7,155.7 499.9,161.3 502,167.1 504.1,172.9 506.2,178.8 508.3,184.7 510.5,190.5 512.6,196.2 514.7,201.7 516.8,207 518.9,212.1 521.1,216.9 523.2,221.5 525.3,225.8 527.4,229.8 529.5,233.4 531.7,236.8 533.8,239.9 535.9,242.8 538,245.3 540.1,247.6 542.3,249.7 544.4,251.5 546.5,253.1 548.6,254.5 550.8,255.7 552.9,256.8 555,257.7 557.1,258.5 559.2,259.2 561.4,259.7 563.5,260.2 565.6,260.6 567.7,261 569.8,261.3 572,261.5 574.1,261.7 576.2,261.9 578.3,262 580.4,262.1 582.6,262.2 584.7,262.3 586.8,262.3 588.9,262.3 591,262.4 593.2,262.4 595.3,262.4 597.4,262.4 599.5,262.5 601.7,262.5 603.8,262.5 605.9,262.5 608,262.5 610.1,262.5 612.3,262.5 614.4,262.5 616.5,262.5 616.5,262.5 614.4,262.5 612.3,262.5 610.1,262.5 608,262.5 605.9,262.5 603.8,262.5 601.7,262.5 599.5,262.5 597.4,262.4 595.3,262.4 593.2,262.4 591,262.4 588.9,262.4 586.8,262.3 584.7,262.3 582.6,262.2 580.4,262.1 578.3,262 576.2,261.9 574.1,261.7 572,261.5 569.8,261.3 567.7,261 565.6,260.7 563.5,260.3 561.4,259.8 559.2,259.2 557.1,258.6 555,257.8 552.9,256.9 550.8,255.8 548.6,254.6 546.5,253.2 544.4,251.6 542.3,249.8 540.1,247.8 538,245.6 535.9,243 533.8,240.3 531.7,237.2 529.5,233.8 527.4,230.2 525.3,226.3 523.2,222 521.1,217.5 518.9,212.8 516.8,207.7 514.7,202.5 512.6,197.1 510.5,191.5 508.3,185.7 506.2,179.9 504.1,174.1 502,168.4 499.9,162.7 497.7,157.1 495.6,151.8 493.5,146.8 491.4,142.1 489.2,137.8 487.1,133.9 485,130.5 482.9,127.7 480.8,125.5 478.6,123.9 476.5,122.9 474.4,122.6 472.3,122.9 470.2,123.9 468,125.5 465.9,127.7 463.8,130.5 461.7,133.9 459.6,137.8 457.4,142.1 455.3,146.8 453.2,151.8 451.1,157.1 449,162.7 446.8,168.4 444.7,174.1 442.6,179.9 440.5,185.7 438.4,191.5 436.2,197.1 434.1,202.5 432,207.7 429.9,212.8 427.7,217.5 425.6,222 423.5,226.3 421.4,230.2 419.3,233.8 417.1,237.2 415,240.3 412.9,243 410.8,245.6 408.7,247.8 406.5,249.8 404.4,251.6 402.3,253.2 400.2,254.6 398.1,255.8 395.9,256.9 393.8,257.8 391.7,258.6 389.6,259.2 387.4,259.8 385.3,260.3 383.2,260.7 381.1,261 379,261.3 376.8,261.5 374.7,261.7 372.6,261.9 370.5,262 368.4,262.1 366.2,262.2 364.1,262.3 362,262.3Z" fill="#eea7a7" opacity="0.85"/>
<path d="M362,262.2 364.1,262.1 366.2,262 368.4,261.9 370.5,261.7 372.6,261.5 374.7,261.3 376.8,261 379,260.6 381.1,260.2 383.2,259.7 385.3,259 387.4,258.2 389.6,257.3 391.7,256.3 393.8,255 395.9,253.5 398.1,251.8 400.2,249.8 402.3,247.5 404.4,244.9 406.5,241.9 408.7,238.6 410.8,234.8 412.9,230.6 415,226 417.1,220.9 419.3,215.2 421.4,209.1 423.5,202.5 425.6,195.4 427.7,187.8 429.9,179.7 432,171.3 434.1,162.4 436.2,153.2 438.4,143.8 440.5,134.1 442.6,124.4 444.7,114.6 446.8,104.9 449,95.4 451.1,86.2 453.2,77.3 455.3,68.9 457.4,61.2 459.6,54.1 461.7,47.9 463.8,42.5 465.9,38.1 468,34.7 470.2,32.4 472.3,31.1 474.4,31 476.5,32 478.6,34.1 480.8,37.3 482.9,41.5 485,46.7 487.1,52.8 489.2,59.7 491.4,67.3 493.5,75.6 495.6,84.3 497.7,93.5 499.9,103 502,112.7 504.1,122.4 506.2,132.2 508.3,141.9 510.5,151.4 512.6,160.6 514.7,169.5 516.8,178.1 518.9,186.2 521.1,193.9 523.2,201.1 525.3,207.8 527.4,214 529.5,219.8 531.7,225 533.8,229.7 535.9,234 538,237.9 540.1,241.3 542.3,244.3 544.4,247 546.5,249.4 548.6,251.4 550.8,253.2 552.9,254.7 555,256 557.1,257.1 559.2,258.1 561.4,258.9 563.5,259.5 565.6,260.1 567.7,260.6 569.8,260.9 572,261.2 574.1,261.5 576.2,261.7 578.3,261.9 580.4,262 582.6,262.1 584.7,262.2 586.8,262.3 588.9,262.3 591,262.4 593.2,262.4 595.3,262.4 597.4,262.4 599.5,262.5 601.7,262.5 603.8,262.5 605.9,262.5 608,262.5 610.1,262.5 612.3,262.5 614.4,262.5 616.5,262.5" fill="none" stroke="#1c1cff" stroke-width="1.45"/>
<path d="M362,262.3 364.1,262.2 366.2,262.1 368.4,262 370.5,261.9 372.6,261.7 374.7,261.5 376.8,261.3 379,261 381.1,260.7 383.2,260.3 385.3,259.7 387.4,259.1 389.6,258.4 391.7,257.6 393.8,256.6 395.9,255.4 398.1,254.1 400.2,252.6 402.3,250.8 404.4,248.7 406.5,246.4 408.7,243.8 410.8,240.9 412.9,237.7 415,234 417.1,230 419.3,225.7 421.4,220.9 423.5,215.8 425.6,210.2 427.7,204.3 429.9,198 432,191.4 434.1,184.4 436.2,177.2 438.4,169.8 440.5,162.2 442.6,154.5 444.7,146.8 446.8,139.1 449,131.5 451.1,124.2 453.2,117.1 455.3,110.3 457.4,104 459.6,98.3 461.7,93.1 463.8,88.6 465.9,84.8 468,81.8 470.2,79.6 472.3,78.3 474.4,77.9 476.5,78.3 478.6,79.6 480.8,81.8 482.9,84.8 485,88.6 487.1,93.1 489.2,98.3 491.4,104 493.5,110.3 495.6,117.1 497.7,124.2 499.9,131.5 502,139.1 504.1,146.8 506.2,154.5 508.3,162.2 510.5,169.8 512.6,177.2 514.7,184.4 516.8,191.4 518.9,198 521.1,204.3 523.2,210.2 525.3,215.8 527.4,220.9 529.5,225.7 531.7,230 533.8,234 535.9,237.7 538,240.9 540.1,243.8 542.3,246.4 544.4,248.7 546.5,250.8 548.6,252.6 550.8,254.1 552.9,255.4 555,256.6 557.1,257.6 559.2,258.4 561.4,259.1 563.5,259.7 565.6,260.3 567.7,260.7 569.8,261 572,261.3 574.1,261.5 576.2,261.7 578.3,261.9 580.4,262 582.6,262.1 584.7,262.2 586.8,262.3 588.9,262.3 591,262.4 593.2,262.4 595.3,262.4 597.4,262.4 599.5,262.5 601.7,262.5 603.8,262.5 605.9,262.5 608,262.5 610.1,262.5 612.3,262.5 614.4,262.5 616.5,262.5" fill="none" stroke="#2f7a1c" stroke-width="1.45"/>
<path d="M362,262.3 364.1,262.3 366.2,262.2 368.4,262.1 370.5,262 372.6,261.9 374.7,261.7 376.8,261.5 379,261.3 381.1,261 383.2,260.7 385.3,260.3 387.4,259.8 389.6,259.2 391.7,258.5 393.8,257.7 395.9,256.8 398.1,255.8 400.2,254.5 402.3,253.1 404.4,251.5 406.5,249.7 408.7,247.7 410.8,245.4 412.9,242.9 415,240.1 417.1,237 419.3,233.6 421.4,230 423.5,226 425.6,221.8 427.7,217.2 429.9,212.4 432,207.4 434.1,202.1 436.2,196.6 438.4,191 440.5,185.2 442.6,179.4 444.7,173.5 446.8,167.7 449,162 451.1,156.4 453.2,151.1 455.3,146 457.4,141.2 459.6,136.9 461.7,133 463.8,129.6 465.9,126.8 468,124.5 470.2,122.9 472.3,121.9 474.4,121.6 476.5,121.9 478.6,122.9 480.8,124.5 482.9,126.8 485,129.6 487.1,133 489.2,136.9 491.4,141.2 493.5,146 495.6,151.1 497.7,156.4 499.9,162 502,167.7 504.1,173.5 506.2,179.4 508.3,185.2 510.5,191 512.6,196.6 514.7,202.1 516.8,207.4 518.9,212.4 521.1,217.2 523.2,221.8 525.3,226 527.4,230 529.5,233.6 531.7,237 533.8,240.1 535.9,242.9 538,245.4 540.1,247.7 542.3,249.7 544.4,251.5 546.5,253.1 548.6,254.5 550.8,255.8 552.9,256.8 555,257.7 557.1,258.5 559.2,259.2 561.4,259.8 563.5,260.3 565.6,260.7 567.7,261 569.8,261.3 572,261.5 574.1,261.7 576.2,261.9 578.3,262 580.4,262.1 582.6,262.2 584.7,262.3 586.8,262.3 588.9,262.3 591,262.4 593.2,262.4 595.3,262.4 597.4,262.4 599.5,262.5 601.7,262.5 603.8,262.5 605.9,262.5 608,262.5 610.1,262.5 612.3,262.5 614.4,262.5 616.5,262.5" fill="none" stroke="#d0202a" stroke-width="1.45"/>
<path d="M387.4,255.7V260.7" stroke="#1c1cff" stroke-width="0.8" opacity="0.6"/><circle cx="387.4" cy="258.2" r="1.5" fill="#1c1cff"/>
<path d="M412.9,228.1V233.1" stroke="#1c1cff" stroke-width="0.8" opacity="0.6"/><circle cx="412.9" cy="230.6" r="1.5" fill="#1c1cff"/>
<path d="M438.4,141.3V146.3" stroke="#1c1cff" stroke-width="0.8" opacity="0.6"/><circle cx="438.4" cy="143.8" r="1.5" fill="#1c1cff"/>
<path d="M463.8,40V45" stroke="#1c1cff" stroke-width="0.8" opacity="0.6"/><circle cx="463.8" cy="42.5" r="1.5" fill="#1c1cff"/>
<path d="M489.2,57.2V62.2" stroke="#1c1cff" stroke-width="0.8" opacity="0.6"/><circle cx="489.2" cy="59.7" r="1.5" fill="#1c1cff"/>
<path d="M514.7,167V172" stroke="#1c1cff" stroke-width="0.8" opacity="0.6"/><circle cx="514.7" cy="169.5" r="1.5" fill="#1c1cff"/>
<path d="M540.1,238.8V243.8" stroke="#1c1cff" stroke-width="0.8" opacity="0.6"/><circle cx="540.1" cy="241.3" r="1.5" fill="#1c1cff"/>
<path d="M565.6,257.6V262.6" stroke="#1c1cff" stroke-width="0.8" opacity="0.6"/><circle cx="565.6" cy="260.1" r="1.5" fill="#1c1cff"/>
<path d="M591,259.9V264.9" stroke="#1c1cff" stroke-width="0.8" opacity="0.6"/><circle cx="591" cy="262.4" r="1.5" fill="#1c1cff"/>
<path d="M616.5,260V265" stroke="#1c1cff" stroke-width="0.8" opacity="0.6"/><circle cx="616.5" cy="262.5" r="1.5" fill="#1c1cff"/>
<path d="M387.4,254.4V259.4" stroke="#2f7a1c" stroke-width="0.8" opacity="0.6"/><circle cx="387.4" cy="256.9" r="1.5" fill="#2f7a1c"/>
<path d="M412.9,235.2V240.2" stroke="#2f7a1c" stroke-width="0.8" opacity="0.6"/><circle cx="412.9" cy="237.7" r="1.5" fill="#2f7a1c"/>
<path d="M438.4,167.3V172.3" stroke="#2f7a1c" stroke-width="0.8" opacity="0.6"/><circle cx="438.4" cy="169.8" r="1.5" fill="#2f7a1c"/>
<path d="M463.8,86.1V91.1" stroke="#2f7a1c" stroke-width="0.8" opacity="0.6"/><circle cx="463.8" cy="88.6" r="1.5" fill="#2f7a1c"/>
<path d="M489.2,95.8V100.8" stroke="#2f7a1c" stroke-width="0.8" opacity="0.6"/><circle cx="489.2" cy="98.3" r="1.5" fill="#2f7a1c"/>
<path d="M514.7,181.9V186.9" stroke="#2f7a1c" stroke-width="0.8" opacity="0.6"/><circle cx="514.7" cy="184.4" r="1.5" fill="#2f7a1c"/>
<path d="M540.1,241.3V246.3" stroke="#2f7a1c" stroke-width="0.8" opacity="0.6"/><circle cx="540.1" cy="243.8" r="1.5" fill="#2f7a1c"/>
<path d="M565.6,257.8V262.8" stroke="#2f7a1c" stroke-width="0.8" opacity="0.6"/><circle cx="565.6" cy="260.3" r="1.5" fill="#2f7a1c"/>
<path d="M591,259.9V264.9" stroke="#2f7a1c" stroke-width="0.8" opacity="0.6"/><circle cx="591" cy="262.4" r="1.5" fill="#2f7a1c"/>
<path d="M616.5,260V265" stroke="#2f7a1c" stroke-width="0.8" opacity="0.6"/><circle cx="616.5" cy="262.5" r="1.5" fill="#2f7a1c"/>
<path d="M387.4,257.3V262.3" stroke="#d0202a" stroke-width="0.8" opacity="0.6"/><circle cx="387.4" cy="259.8" r="1.5" fill="#d0202a"/>
<path d="M412.9,240.4V245.4" stroke="#d0202a" stroke-width="0.8" opacity="0.6"/><circle cx="412.9" cy="242.9" r="1.5" fill="#d0202a"/>
<path d="M438.4,188.5V193.5" stroke="#d0202a" stroke-width="0.8" opacity="0.6"/><circle cx="438.4" cy="191" r="1.5" fill="#d0202a"/>
<path d="M463.8,127.1V132.1" stroke="#d0202a" stroke-width="0.8" opacity="0.6"/><circle cx="463.8" cy="129.6" r="1.5" fill="#d0202a"/>
<path d="M489.2,134.4V139.4" stroke="#d0202a" stroke-width="0.8" opacity="0.6"/><circle cx="489.2" cy="136.9" r="1.5" fill="#d0202a"/>
<path d="M514.7,199.6V204.6" stroke="#d0202a" stroke-width="0.8" opacity="0.6"/><circle cx="514.7" cy="202.1" r="1.5" fill="#d0202a"/>
<path d="M540.1,245.2V250.2" stroke="#d0202a" stroke-width="0.8" opacity="0.6"/><circle cx="540.1" cy="247.7" r="1.5" fill="#d0202a"/>
<path d="M565.6,258.2V263.2" stroke="#d0202a" stroke-width="0.8" opacity="0.6"/><circle cx="565.6" cy="260.7" r="1.5" fill="#d0202a"/>
<path d="M591,259.9V264.9" stroke="#d0202a" stroke-width="0.8" opacity="0.6"/><circle cx="591" cy="262.4" r="1.5" fill="#d0202a"/>
<path d="M616.5,260V265" stroke="#d0202a" stroke-width="0.8" opacity="0.6"/><circle cx="616.5" cy="262.5" r="1.5" fill="#d0202a"/>
</g>
<rect x="362" y="19" width="254.5" height="255" fill="none" stroke="#a4a4a4" stroke-width="1.1"/>
<path d="M362,274V276.2" stroke="#a4a4a4" stroke-width="0.9"/>
<path d="M404.42,274V276.2" stroke="#a4a4a4" stroke-width="0.9"/>
<path d="M446.83,274V276.2" stroke="#a4a4a4" stroke-width="0.9"/>
<path d="M489.25,274V276.2" stroke="#a4a4a4" stroke-width="0.9"/>
<path d="M531.67,274V276.2" stroke="#a4a4a4" stroke-width="0.9"/>
<path d="M574.08,274V276.2" stroke="#a4a4a4" stroke-width="0.9"/>
<path d="M616.5,274V276.2" stroke="#a4a4a4" stroke-width="0.9"/>
<path d="M359.8,262.5H362" stroke="#a4a4a4" stroke-width="0.9"/>
<path d="M359.8,224.16H362" stroke="#a4a4a4" stroke-width="0.9"/>
<path d="M359.8,185.82H362" stroke="#a4a4a4" stroke-width="0.9"/>
<path d="M359.8,147.48H362" stroke="#a4a4a4" stroke-width="0.9"/>
<path d="M359.8,109.14H362" stroke="#a4a4a4" stroke-width="0.9"/>
<path d="M359.8,70.8H362" stroke="#a4a4a4" stroke-width="0.9"/>
<path d="M359.8,32.46H362" stroke="#a4a4a4" stroke-width="0.9"/>
<rect x="511.1" y="24.5" width="99.6" height="51.8" rx="2.5" fill="#fff" fill-opacity="0.8" stroke="#dcdcdc" stroke-width="1"/>
<path d="M526.5,27.85V39.25" stroke="#1c1cff" stroke-width="1.2" opacity="0.6"/><circle cx="526.5" cy="33.55" r="1.6" fill="#1c1cff"/>
<path d="M526.5,43.75V55.15" stroke="#2f7a1c" stroke-width="1.2" opacity="0.6"/><circle cx="526.5" cy="49.45" r="1.6" fill="#2f7a1c"/>
<path d="M526.5,59.65V71.05" stroke="#d0202a" stroke-width="1.2" opacity="0.6"/><circle cx="526.5" cy="65.35" r="1.6" fill="#d0202a"/>
<clipPath id="cBL"><rect x="48.5" y="325.6" width="254.7" height="254.6"/></clipPath>
<g clip-path="url(#cBL)">
<path d="M48.5,568.3 50.6,568.3 52.7,568.2 54.9,568.2 57,568.1 59.1,568 61.2,567.9 63.4,567.7 65.5,567.5 67.6,567.3 69.7,567 71.8,566.6 74,566.2 76.1,565.6 78.2,565 80.3,564.2 82.5,563.2 84.6,562.1 86.7,560.8 88.8,559.2 91,557.3 93.1,555.2 95.2,552.7 97.3,549.9 99.4,546.6 101.6,542.9 103.7,538.8 105.8,534.1 107.9,529 110.1,523.3 112.2,517.1 114.3,510.3 116.4,503 118.5,495.2 120.7,486.8 122.8,478 124.9,468.8 127,459.2 129.2,449.3 131.3,439.2 133.4,429 135.5,418.9 137.6,408.8 139.8,398.9 141.9,389.5 144,380.4 146.1,372 148.3,364.3 150.4,357.4 152.5,351.5 154.6,346.6 156.7,342.8 158.9,340.1 161,338.6 163.1,338.4 165.2,339.4 167.4,341.5 169.5,344.9 171.6,349.4 173.7,354.9 175.9,361.5 178,368.8 180.1,377 182.2,385.8 184.3,395.1 186.5,404.8 188.6,414.8 190.7,425 192.8,435.2 195,445.3 197.1,455.3 199.2,465 201.3,474.4 203.4,483.3 205.6,491.9 207.7,499.9 209.8,507.5 211.9,514.5 214.1,520.9 216.2,526.8 218.3,532.2 220.4,537 222.5,541.3 224.7,545.2 226.8,548.6 228.9,551.6 231,554.2 233.2,556.5 235.3,558.5 237.4,560.2 239.5,561.6 241.6,562.8 243.8,563.8 245.9,564.7 248,565.4 250.1,566 252.3,566.5 254.4,566.9 256.5,567.2 258.6,567.4 260.8,567.7 262.9,567.8 265,567.9 267.1,568.1 269.2,568.1 271.4,568.2 273.5,568.2 275.6,568.3 277.7,568.3 279.9,568.3 282,568.4 284.1,568.4 286.2,568.4 288.3,568.4 290.5,568.4 292.6,568.4 294.7,568.4 296.8,568.4 299,568.4 301.1,568.4 303.2,568.4 303.2,568.4 301.1,568.4 299,568.4 296.8,568.4 294.7,568.4 292.6,568.4 290.5,568.4 288.3,568.4 286.2,568.4 284.1,568.4 282,568.4 279.9,568.3 277.7,568.3 275.6,568.3 273.5,568.2 271.4,568.2 269.2,568.1 267.1,568.1 265,567.9 262.9,567.8 260.8,567.7 258.6,567.4 256.5,567.2 254.4,566.9 252.3,566.5 250.1,566 248,565.4 245.9,564.7 243.8,563.8 241.6,562.8 239.5,561.6 237.4,560.2 235.3,558.5 233.2,556.5 231,554.3 228.9,551.7 226.8,548.7 224.7,545.3 222.5,541.4 220.4,537.1 218.3,532.3 216.2,526.9 214.1,521.1 211.9,514.6 209.8,507.7 207.7,500.2 205.6,492.1 203.4,483.6 201.3,474.7 199.2,465.3 197.1,455.6 195,445.7 192.8,435.6 190.7,425.5 188.6,415.3 186.5,405.4 184.3,395.7 182.2,386.4 180.1,377.6 178,369.5 175.9,362.2 173.7,355.7 171.6,350.1 169.5,345.7 167.4,342.3 165.2,340.1 163.1,339.1 161,339.4 158.9,340.9 156.7,343.5 154.6,347.3 152.5,352.2 150.4,358.2 148.3,365 146.1,372.7 144,381.1 141.9,390.1 139.8,399.5 137.6,409.3 135.5,419.4 133.4,429.5 131.3,439.7 129.2,449.7 127,459.6 124.9,469.1 122.8,478.3 120.7,487.1 118.5,495.4 116.4,503.2 114.3,510.5 112.2,517.3 110.1,523.5 107.9,529.1 105.8,534.3 103.7,538.9 101.6,543 99.4,546.7 97.3,549.9 95.2,552.8 93.1,555.2 91,557.4 88.8,559.2 86.7,560.8 84.6,562.1 82.5,563.3 80.3,564.2 78.2,565 76.1,565.7 74,566.2 71.8,566.6 69.7,567 67.6,567.3 65.5,567.5 63.4,567.7 61.2,567.9 59.1,568 57,568.1 54.9,568.2 52.7,568.2 50.6,568.3 48.5,568.3Z" fill="#b2b2fc" opacity="0.85"/>
<path d="M48.5,568.3 50.6,568.3 52.7,568.2 54.9,568.2 57,568.1 59.1,568.1 61.2,568 63.4,567.8 65.5,567.7 67.6,567.5 69.7,567.3 71.8,567 74,566.6 76.1,566.2 78.2,565.6 80.3,565 82.5,564.2 84.6,563.3 86.7,562.2 88.8,561 91,559.5 93.1,557.8 95.2,555.8 97.3,553.5 99.4,550.9 101.6,548 103.7,544.7 105.8,541 107.9,536.9 110.1,532.4 112.2,527.5 114.3,522.1 116.4,516.3 118.5,510.1 120.7,503.5 122.8,496.6 124.9,489.3 127,481.7 129.2,473.9 131.3,466 133.4,457.9 135.5,449.9 137.6,442 139.8,434.2 141.9,426.7 144,419.6 146.1,413 148.3,407 150.4,401.6 152.5,396.9 154.6,393 156.7,390 158.9,387.9 161,386.8 163.1,386.6 165.2,387.3 167.4,389.1 169.5,391.7 171.6,395.2 173.7,399.6 175.9,404.7 178,410.5 180.1,416.9 182.2,423.9 184.3,431.2 186.5,438.8 188.6,446.7 190.7,454.7 192.8,462.7 195,470.7 197.1,478.6 199.2,486.3 201.3,493.7 203.4,500.8 205.6,507.5 207.7,513.9 209.8,519.9 211.9,525.4 214.1,530.5 216.2,535.2 218.3,539.4 220.4,543.3 222.5,546.7 224.7,549.8 226.8,552.5 228.9,554.9 231,557 233.2,558.8 235.3,560.4 237.4,561.8 239.5,562.9 241.6,563.9 243.8,564.7 245.9,565.4 248,566 250.1,566.4 252.3,566.8 254.4,567.1 256.5,567.4 258.6,567.6 260.8,567.8 262.9,567.9 265,568 267.1,568.1 269.2,568.2 271.4,568.2 273.5,568.3 275.6,568.3 277.7,568.3 279.9,568.3 282,568.4 284.1,568.4 286.2,568.4 288.3,568.4 290.5,568.4 292.6,568.4 294.7,568.4 296.8,568.4 299,568.4 301.1,568.4 303.2,568.4 303.2,568.4 301.1,568.4 299,568.4 296.8,568.4 294.7,568.4 292.6,568.4 290.5,568.4 288.3,568.4 286.2,568.4 284.1,568.4 282,568.4 279.9,568.3 277.7,568.3 275.6,568.3 273.5,568.3 271.4,568.2 269.2,568.2 267.1,568.1 265,568 262.9,567.9 260.8,567.8 258.6,567.6 256.5,567.4 254.4,567.2 252.3,566.8 250.1,566.4 248,566 245.9,565.4 243.8,564.7 241.6,563.9 239.5,562.9 237.4,561.8 235.3,560.4 233.2,558.9 231,557.1 228.9,555 226.8,552.6 224.7,549.9 222.5,546.8 220.4,543.4 218.3,539.6 216.2,535.3 214.1,530.7 211.9,525.6 209.8,520.1 207.7,514.1 205.6,507.8 203.4,501.1 201.3,494 199.2,486.6 197.1,479 195,471.2 192.8,463.2 190.7,455.2 188.6,447.2 186.5,439.4 184.3,431.8 182.2,424.5 180.1,417.6 178,411.2 175.9,405.4 173.7,400.3 171.6,396 169.5,392.5 167.4,389.8 165.2,388.1 163.1,387.3 161,387.5 158.9,388.7 156.7,390.8 154.6,393.8 152.5,397.6 150.4,402.3 148.3,407.7 146.1,413.7 144,420.3 141.9,427.3 139.8,434.8 137.6,442.5 135.5,450.4 133.4,458.4 131.3,466.4 129.2,474.3 127,482.1 124.9,489.6 122.8,496.9 120.7,503.8 118.5,510.4 116.4,516.6 114.3,522.3 112.2,527.7 110.1,532.6 107.9,537.1 105.8,541.1 103.7,544.8 101.6,548.1 99.4,551 97.3,553.6 95.2,555.8 93.1,557.8 91,559.5 88.8,561 86.7,562.3 84.6,563.3 82.5,564.2 80.3,565 78.2,565.6 76.1,566.2 74,566.6 71.8,567 69.7,567.3 67.6,567.5 65.5,567.7 63.4,567.8 61.2,568 59.1,568.1 57,568.1 54.9,568.2 52.7,568.3 50.6,568.3 48.5,568.3Z" fill="#a9cf9c" opacity="0.85"/>
<path d="M48.5,568.3 50.6,568.3 52.7,568.3 54.9,568.3 57,568.2 59.1,568.2 61.2,568.1 63.4,568 65.5,567.9 67.6,567.8 69.7,567.6 71.8,567.4 74,567.2 76.1,566.9 78.2,566.5 80.3,566.1 82.5,565.5 84.6,564.9 86.7,564.1 88.8,563.2 91,562.1 93.1,560.8 95.2,559.3 97.3,557.6 99.4,555.7 101.6,553.4 103.7,550.9 105.8,548.1 107.9,545 110.1,541.5 112.2,537.6 114.3,533.4 116.4,528.9 118.5,524 120.7,518.8 122.8,513.2 124.9,507.4 127,501.3 129.2,495 131.3,488.6 133.4,482.1 135.5,475.6 137.6,469.1 139.8,462.7 141.9,456.6 144,450.7 146.1,445.2 148.3,440.2 150.4,435.7 152.5,431.8 154.6,428.5 156.7,426 158.9,424.2 161,423.1 163.1,422.9 165.2,423.4 167.4,424.8 169.5,426.9 171.6,429.7 173.7,433.3 175.9,437.4 178,442.2 180.1,447.4 182.2,453 184.3,459 186.5,465.2 188.6,471.7 190.7,478.2 192.8,484.7 195,491.2 197.1,497.6 199.2,503.8 201.3,509.7 203.4,515.5 205.6,520.9 207.7,526 209.8,530.8 211.9,535.2 214.1,539.2 216.2,542.9 218.3,546.3 220.4,549.3 222.5,552 224.7,554.4 226.8,556.5 228.9,558.3 231,559.9 233.2,561.3 235.3,562.5 237.4,563.5 239.5,564.4 241.6,565.1 243.8,565.7 245.9,566.3 248,566.7 250.1,567 252.3,567.3 254.4,567.5 256.5,567.7 258.6,567.9 260.8,568 262.9,568.1 265,568.2 267.1,568.2 269.2,568.3 271.4,568.3 273.5,568.3 275.6,568.3 277.7,568.4 279.9,568.4 282,568.4 284.1,568.4 286.2,568.4 288.3,568.4 290.5,568.4 292.6,568.4 294.7,568.4 296.8,568.4 299,568.4 301.1,568.4 303.2,568.4 303.2,568.4 301.1,568.4 299,568.4 296.8,568.4 294.7,568.4 292.6,568.4 290.5,568.4 288.3,568.4 286.2,568.4 284.1,568.4 282,568.4 279.9,568.4 277.7,568.4 275.6,568.3 273.5,568.3 271.4,568.3 269.2,568.3 267.1,568.2 265,568.2 262.9,568.1 260.8,568 258.6,567.9 256.5,567.7 254.4,567.5 252.3,567.3 250.1,567 248,566.7 245.9,566.3 243.8,565.8 241.6,565.2 239.5,564.4 237.4,563.6 235.3,562.6 233.2,561.4 231,560 228.9,558.4 226.8,556.5 224.7,554.4 222.5,552.1 220.4,549.4 218.3,546.4 216.2,543 214.1,539.4 211.9,535.3 209.8,531 207.7,526.2 205.6,521.1 203.4,515.7 201.3,510.1 199.2,504.1 197.1,497.9 195,491.6 192.8,485.2 190.7,478.7 188.6,472.2 186.5,465.8 184.3,459.6 182.2,453.6 180.1,448 178,442.8 175.9,438.1 173.7,434 171.6,430.5 169.5,427.7 167.4,425.6 165.2,424.2 163.1,423.7 161,423.9 158.9,424.9 156.7,426.7 154.6,429.3 152.5,432.5 150.4,436.4 148.3,440.9 146.1,445.9 144,451.4 141.9,457.2 139.8,463.3 137.6,469.6 135.5,476.1 133.4,482.6 131.3,489 129.2,495.4 127,501.7 124.9,507.7 122.8,513.5 120.7,519 118.5,524.2 116.4,529.1 114.3,533.6 112.2,537.8 110.1,541.6 107.9,545.1 105.8,548.2 103.7,551 101.6,553.5 99.4,555.7 97.3,557.7 95.2,559.4 93.1,560.8 91,562.1 88.8,563.2 86.7,564.1 84.6,564.9 82.5,565.5 80.3,566.1 78.2,566.5 76.1,566.9 74,567.2 71.8,567.4 69.7,567.7 67.6,567.8 65.5,567.9 63.4,568 61.2,568.1 59.1,568.2 57,568.2 54.9,568.3 52.7,568.3 50.6,568.3 48.5,568.3Z" fill="#eea7a7" opacity="0.85"/>
<path d="M48.5,568.3 50.6,568.3 52.7,568.2 54.9,568.2 57,568.1 59.1,568 61.2,567.9 63.4,567.7 65.5,567.5 67.6,567.3 69.7,567 71.8,566.6 74,566.2 76.1,565.7 78.2,565 80.3,564.2 82.5,563.2 84.6,562.1 86.7,560.8 88.8,559.2 91,557.3 93.1,555.2 95.2,552.7 97.3,549.9 99.4,546.6 101.6,543 103.7,538.8 105.8,534.2 107.9,529.1 110.1,523.4 112.2,517.2 114.3,510.4 116.4,503.1 118.5,495.3 120.7,487 122.8,478.2 124.9,468.9 127,459.4 129.2,449.5 131.3,439.4 133.4,429.3 135.5,419.1 137.6,409.1 139.8,399.2 141.9,389.8 144,380.8 146.1,372.4 148.3,364.7 150.4,357.8 152.5,351.9 154.6,347 156.7,343.1 158.9,340.5 161,339 163.1,338.8 165.2,339.7 167.4,341.9 169.5,345.3 171.6,349.8 173.7,355.3 175.9,361.8 178,369.2 180.1,377.3 182.2,386.1 184.3,395.4 186.5,405.1 188.6,415.1 190.7,425.2 192.8,435.4 195,445.5 197.1,455.5 199.2,465.2 201.3,474.5 203.4,483.5 205.6,492 207.7,500.1 209.8,507.6 211.9,514.5 214.1,521 216.2,526.9 218.3,532.2 220.4,537 222.5,541.4 224.7,545.2 226.8,548.6 228.9,551.6 231,554.3 233.2,556.5 235.3,558.5 237.4,560.2 239.5,561.6 241.6,562.8 243.8,563.8 245.9,564.7 248,565.4 250.1,566 252.3,566.5 254.4,566.9 256.5,567.2 258.6,567.4 260.8,567.7 262.9,567.8 265,567.9 267.1,568.1 269.2,568.1 271.4,568.2 273.5,568.2 275.6,568.3 277.7,568.3 279.9,568.3 282,568.4 284.1,568.4 286.2,568.4 288.3,568.4 290.5,568.4 292.6,568.4 294.7,568.4 296.8,568.4 299,568.4 301.1,568.4 303.2,568.4" fill="none" stroke="#1c1cff" stroke-width="1.45"/>
<path d="M48.5,568.3 50.6,568.3 52.7,568.3 54.9,568.2 57,568.1 59.1,568.1 61.2,568 63.4,567.8 65.5,567.7 67.6,567.5 69.7,567.3 71.8,567 74,566.6 76.1,566.2 78.2,565.6 80.3,565 82.5,564.2 84.6,563.3 86.7,562.3 88.8,561 91,559.5 93.1,557.8 95.2,555.8 97.3,553.6 99.4,551 101.6,548 103.7,544.8 105.8,541.1 107.9,537 110.1,532.5 112.2,527.6 114.3,522.2 116.4,516.4 118.5,510.2 120.7,503.7 122.8,496.7 124.9,489.4 127,481.9 129.2,474.1 131.3,466.2 133.4,458.2 135.5,450.2 137.6,442.2 139.8,434.5 141.9,427 144,420 146.1,413.4 148.3,407.3 150.4,401.9 152.5,397.3 154.6,393.4 156.7,390.4 158.9,388.3 161,387.1 163.1,387 165.2,387.7 167.4,389.4 169.5,392.1 171.6,395.6 173.7,400 175.9,405.1 178,410.9 180.1,417.3 182.2,424.2 184.3,431.5 186.5,439.1 188.6,447 190.7,455 192.8,463 195,470.9 197.1,478.8 199.2,486.4 201.3,493.8 203.4,500.9 205.6,507.7 207.7,514 209.8,520 211.9,525.5 214.1,530.6 216.2,535.3 218.3,539.5 220.4,543.3 222.5,546.8 224.7,549.8 226.8,552.6 228.9,555 231,557 233.2,558.9 235.3,560.4 237.4,561.8 239.5,562.9 241.6,563.9 243.8,564.7 245.9,565.4 248,566 250.1,566.4 252.3,566.8 254.4,567.2 256.5,567.4 258.6,567.6 260.8,567.8 262.9,567.9 265,568 267.1,568.1 269.2,568.2 271.4,568.2 273.5,568.3 275.6,568.3 277.7,568.3 279.9,568.3 282,568.4 284.1,568.4 286.2,568.4 288.3,568.4 290.5,568.4 292.6,568.4 294.7,568.4 296.8,568.4 299,568.4 301.1,568.4 303.2,568.4" fill="none" stroke="#2f7a1c" stroke-width="1.45"/>
<path d="M48.5,568.3 50.6,568.3 52.7,568.3 54.9,568.3 57,568.2 59.1,568.2 61.2,568.1 63.4,568 65.5,567.9 67.6,567.8 69.7,567.6 71.8,567.4 74,567.2 76.1,566.9 78.2,566.5 80.3,566.1 82.5,565.5 84.6,564.9 86.7,564.1 88.8,563.2 91,562.1 93.1,560.8 95.2,559.3 97.3,557.6 99.4,555.7 101.6,553.5 103.7,551 105.8,548.2 107.9,545 110.1,541.5 112.2,537.7 114.3,533.5 116.4,529 118.5,524.1 120.7,518.9 122.8,513.4 124.9,507.5 127,501.5 129.2,495.2 131.3,488.8 133.4,482.3 135.5,475.8 137.6,469.3 139.8,463 141.9,456.9 144,451 146.1,445.6 148.3,440.6 150.4,436.1 152.5,432.1 154.6,428.9 156.7,426.3 158.9,424.5 161,423.5 163.1,423.3 165.2,423.8 167.4,425.2 169.5,427.3 171.6,430.1 173.7,433.6 175.9,437.8 178,442.5 180.1,447.7 182.2,453.3 184.3,459.3 186.5,465.5 188.6,471.9 190.7,478.4 192.8,484.9 195,491.4 197.1,497.8 199.2,503.9 201.3,509.9 203.4,515.6 205.6,521 207.7,526.1 209.8,530.9 211.9,535.2 214.1,539.3 216.2,543 218.3,546.3 220.4,549.3 222.5,552 224.7,554.4 226.8,556.5 228.9,558.4 231,560 233.2,561.3 235.3,562.5 237.4,563.6 239.5,564.4 241.6,565.1 243.8,565.8 245.9,566.3 248,566.7 250.1,567 252.3,567.3 254.4,567.5 256.5,567.7 258.6,567.9 260.8,568 262.9,568.1 265,568.2 267.1,568.2 269.2,568.3 271.4,568.3 273.5,568.3 275.6,568.3 277.7,568.4 279.9,568.4 282,568.4 284.1,568.4 286.2,568.4 288.3,568.4 290.5,568.4 292.6,568.4 294.7,568.4 296.8,568.4 299,568.4 301.1,568.4 303.2,568.4" fill="none" stroke="#d0202a" stroke-width="1.45"/>
<path d="M50.6,565.8V570.8" stroke="#1c1cff" stroke-width="0.8" opacity="0.6"/><circle cx="50.6" cy="568.3" r="1.5" fill="#1c1cff"/>
<path d="M76.1,563.2V568.2" stroke="#1c1cff" stroke-width="0.8" opacity="0.6"/><circle cx="76.1" cy="565.7" r="1.5" fill="#1c1cff"/>
<path d="M101.6,540.5V545.5" stroke="#1c1cff" stroke-width="0.8" opacity="0.6"/><circle cx="101.6" cy="543" r="1.5" fill="#1c1cff"/>
<path d="M127,456.9V461.9" stroke="#1c1cff" stroke-width="0.8" opacity="0.6"/><circle cx="127" cy="459.4" r="1.5" fill="#1c1cff"/>
<path d="M152.5,349.4V354.4" stroke="#1c1cff" stroke-width="0.8" opacity="0.6"/><circle cx="152.5" cy="351.9" r="1.5" fill="#1c1cff"/>
<path d="M178,366.7V371.7" stroke="#1c1cff" stroke-width="0.8" opacity="0.6"/><circle cx="178" cy="369.2" r="1.5" fill="#1c1cff"/>
<path d="M203.4,481V486" stroke="#1c1cff" stroke-width="0.8" opacity="0.6"/><circle cx="203.4" cy="483.5" r="1.5" fill="#1c1cff"/>
<path d="M228.9,549.1V554.1" stroke="#1c1cff" stroke-width="0.8" opacity="0.6"/><circle cx="228.9" cy="551.6" r="1.5" fill="#1c1cff"/>
<path d="M254.4,564.4V569.4" stroke="#1c1cff" stroke-width="0.8" opacity="0.6"/><circle cx="254.4" cy="566.9" r="1.5" fill="#1c1cff"/>
<path d="M279.9,565.8V570.8" stroke="#1c1cff" stroke-width="0.8" opacity="0.6"/><circle cx="279.9" cy="568.3" r="1.5" fill="#1c1cff"/>
<path d="M50.6,565.8V570.8" stroke="#2f7a1c" stroke-width="0.8" opacity="0.6"/><circle cx="50.6" cy="568.3" r="1.5" fill="#2f7a1c"/>
<path d="M76.1,563.7V568.7" stroke="#2f7a1c" stroke-width="0.8" opacity="0.6"/><circle cx="76.1" cy="566.2" r="1.5" fill="#2f7a1c"/>
<path d="M101.6,545.5V550.5" stroke="#2f7a1c" stroke-width="0.8" opacity="0.6"/><circle cx="101.6" cy="548" r="1.5" fill="#2f7a1c"/>
<path d="M127,479.4V484.4" stroke="#2f7a1c" stroke-width="0.8" opacity="0.6"/><circle cx="127" cy="481.9" r="1.5" fill="#2f7a1c"/>
<path d="M152.5,394.8V399.8" stroke="#2f7a1c" stroke-width="0.8" opacity="0.6"/><circle cx="152.5" cy="397.3" r="1.5" fill="#2f7a1c"/>
<path d="M178,408.4V413.4" stroke="#2f7a1c" stroke-width="0.8" opacity="0.6"/><circle cx="178" cy="410.9" r="1.5" fill="#2f7a1c"/>
<path d="M203.4,498.4V503.4" stroke="#2f7a1c" stroke-width="0.8" opacity="0.6"/><circle cx="203.4" cy="500.9" r="1.5" fill="#2f7a1c"/>
<path d="M228.9,552.5V557.5" stroke="#2f7a1c" stroke-width="0.8" opacity="0.6"/><circle cx="228.9" cy="555" r="1.5" fill="#2f7a1c"/>
<path d="M254.4,564.7V569.7" stroke="#2f7a1c" stroke-width="0.8" opacity="0.6"/><circle cx="254.4" cy="567.2" r="1.5" fill="#2f7a1c"/>
<path d="M279.9,565.8V570.8" stroke="#2f7a1c" stroke-width="0.8" opacity="0.6"/><circle cx="279.9" cy="568.3" r="1.5" fill="#2f7a1c"/>
<path d="M50.6,565.8V570.8" stroke="#d0202a" stroke-width="0.8" opacity="0.6"/><circle cx="50.6" cy="568.3" r="1.5" fill="#d0202a"/>
<path d="M76.1,564.4V569.4" stroke="#d0202a" stroke-width="0.8" opacity="0.6"/><circle cx="76.1" cy="566.9" r="1.5" fill="#d0202a"/>
<path d="M101.6,551V556" stroke="#d0202a" stroke-width="0.8" opacity="0.6"/><circle cx="101.6" cy="553.5" r="1.5" fill="#d0202a"/>
<path d="M127,499V504" stroke="#d0202a" stroke-width="0.8" opacity="0.6"/><circle cx="127" cy="501.5" r="1.5" fill="#d0202a"/>
<path d="M152.5,429.6V434.6" stroke="#d0202a" stroke-width="0.8" opacity="0.6"/><circle cx="152.5" cy="432.1" r="1.5" fill="#d0202a"/>
<path d="M178,440V445" stroke="#d0202a" stroke-width="0.8" opacity="0.6"/><circle cx="178" cy="442.5" r="1.5" fill="#d0202a"/>
<path d="M203.4,513.1V518.1" stroke="#d0202a" stroke-width="0.8" opacity="0.6"/><circle cx="203.4" cy="515.6" r="1.5" fill="#d0202a"/>
<path d="M228.9,555.9V560.9" stroke="#d0202a" stroke-width="0.8" opacity="0.6"/><circle cx="228.9" cy="558.4" r="1.5" fill="#d0202a"/>
<path d="M254.4,565V570" stroke="#d0202a" stroke-width="0.8" opacity="0.6"/><circle cx="254.4" cy="567.5" r="1.5" fill="#d0202a"/>
<path d="M279.9,565.9V570.9" stroke="#d0202a" stroke-width="0.8" opacity="0.6"/><circle cx="279.9" cy="568.4" r="1.5" fill="#d0202a"/>
</g>
<rect x="48.5" y="325.6" width="254.7" height="254.6" fill="none" stroke="#a4a4a4" stroke-width="1.1"/>
<path d="M48.5,580.2V582.4" stroke="#a4a4a4" stroke-width="0.9"/>
<path d="M90.95,580.2V582.4" stroke="#a4a4a4" stroke-width="0.9"/>
<path d="M133.4,580.2V582.4" stroke="#a4a4a4" stroke-width="0.9"/>
<path d="M175.85,580.2V582.4" stroke="#a4a4a4" stroke-width="0.9"/>
<path d="M218.3,580.2V582.4" stroke="#a4a4a4" stroke-width="0.9"/>
<path d="M260.75,580.2V582.4" stroke="#a4a4a4" stroke-width="0.9"/>
<path d="M303.2,580.2V582.4" stroke="#a4a4a4" stroke-width="0.9"/>
<path d="M46.3,568.4H48.5" stroke="#a4a4a4" stroke-width="0.9"/>
<path d="M46.3,536.17H48.5" stroke="#a4a4a4" stroke-width="0.9"/>
<path d="M46.3,503.95H48.5" stroke="#a4a4a4" stroke-width="0.9"/>
<path d="M46.3,471.72H48.5" stroke="#a4a4a4" stroke-width="0.9"/>
<path d="M46.3,439.5H48.5" stroke="#a4a4a4" stroke-width="0.9"/>
<path d="M46.3,407.27H48.5" stroke="#a4a4a4" stroke-width="0.9"/>
<path d="M46.3,375.05H48.5" stroke="#a4a4a4" stroke-width="0.9"/>
<path d="M46.3,342.82H48.5" stroke="#a4a4a4" stroke-width="0.9"/>
<rect x="197.6" y="331" width="100" height="51.5" rx="2.5" fill="#fff" fill-opacity="0.8" stroke="#dcdcdc" stroke-width="1"/>
<path d="M213,334.35V345.75" stroke="#1c1cff" stroke-width="1.2" opacity="0.6"/><circle cx="213" cy="340.05" r="1.6" fill="#1c1cff"/>
<path d="M213,350.25V361.65" stroke="#2f7a1c" stroke-width="1.2" opacity="0.6"/><circle cx="213" cy="355.95" r="1.6" fill="#2f7a1c"/>
<path d="M213,366.15V377.55" stroke="#d0202a" stroke-width="1.2" opacity="0.6"/><circle cx="213" cy="371.85" r="1.6" fill="#d0202a"/>
<clipPath id="cBR"><rect x="362" y="325.5" width="254.4" height="254.5"/></clipPath>
<g clip-path="url(#cBR)">
<path d="M362,568.4 364.1,568.4 366.2,568.3 368.4,568.1 370.5,568 372.6,567.8 374.7,567.5 376.8,567.3 379,566.9 381.1,566.5 383.2,565.9 385.3,565.3 387.4,564.6 389.6,563.7 391.7,562.6 393.8,561.4 395.9,559.9 398,558.2 400.2,556.2 402.3,554 404.4,551.4 406.5,548.5 408.6,545.1 410.8,541.4 412.9,537.2 415,532.6 417.1,527.5 419.2,521.8 421.4,515.7 423.5,509.1 425.6,502 427.7,494.4 429.8,486.3 432,477.8 434.1,468.9 436.2,459.6 438.3,450.1 440.4,440.4 442.6,430.5 444.7,420.7 446.8,410.9 448.9,401.3 451,391.9 453.2,383 455.3,374.5 457.4,366.7 459.5,359.5 461.6,353.2 463.8,347.8 465.9,343.3 468,339.9 470.1,337.5 472.2,336.2 474.4,336.1 476.5,337.2 478.6,339.3 480.7,342.5 482.8,346.8 485,352.1 487.1,358.2 489.2,365.2 491.3,372.9 493.4,381.2 495.6,390.1 497.7,399.4 499.8,408.9 501.9,418.7 504,428.6 506.2,438.4 508.3,448.2 510.4,457.7 512.5,467 514.6,476 516.8,484.6 518.9,492.8 521,500.5 523.1,507.7 525.2,514.4 527.4,520.7 529.5,526.4 531.6,531.6 533.7,536.3 535.8,540.6 538,544.4 540.1,547.8 542.2,550.8 544.3,553.5 546.4,555.8 548.6,557.8 550.7,559.6 552.8,561.1 554.9,562.4 557,563.5 559.2,564.4 561.3,565.2 563.4,565.8 565.5,566.4 567.6,566.8 569.8,567.2 571.9,567.5 574,567.7 576.1,567.9 578.2,568.1 580.4,568.2 582.5,568.3 584.6,568.4 586.7,568.5 588.8,568.5 591,568.6 593.1,568.6 595.2,568.6 597.3,568.6 599.4,568.7 601.6,568.7 603.7,568.7 605.8,568.7 607.9,568.7 610,568.7 612.2,568.7 614.3,568.7 616.4,568.7 616.4,568.7 614.3,568.7 612.2,568.7 610,568.7 607.9,568.7 605.8,568.7 603.7,568.7 601.6,568.7 599.4,568.7 597.3,568.7 595.2,568.7 593.1,568.6 591,568.6 588.8,568.6 586.7,568.5 584.6,568.5 582.5,568.4 580.4,568.4 578.2,568.3 576.1,568.1 574,568 571.9,567.8 569.8,567.6 567.6,567.3 565.5,566.9 563.4,566.5 561.3,565.9 559.2,565.3 557,564.5 554.9,563.6 552.8,562.5 550.7,561.2 548.6,559.7 546.4,557.9 544.3,555.9 542.2,553.5 540.1,550.9 538,547.8 535.8,544.4 533.7,540.5 531.6,536.1 529.5,531.3 527.4,526 525.2,520.2 523.1,513.9 521,507.1 518.9,499.8 516.8,492.1 514.6,483.8 512.5,475.2 510.4,466.3 508.3,457 506.2,447.6 504,438 501.9,428.3 499.8,418.7 497.7,409.3 495.6,400.2 493.4,391.4 491.3,383.2 489.2,375.5 487.1,368.6 485,362.4 482.8,357.2 480.7,352.9 478.6,349.7 476.5,347.6 474.4,346.6 472.2,346.7 470.1,347.9 468,350.3 465.9,353.7 463.8,358.2 461.6,363.6 459.5,369.9 457.4,377 455.3,384.8 453.2,393.1 451,402 448.9,411.2 446.8,420.6 444.7,430.2 442.6,439.9 440.4,449.5 438.3,458.9 436.2,468.1 434.1,477 432,485.5 429.8,493.7 427.7,501.3 425.6,508.5 423.5,515.2 421.4,521.4 419.2,527.1 417.1,532.3 415,537 412.9,541.3 410.8,545.1 408.6,548.4 406.5,551.4 404.4,554 402.3,556.3 400.2,558.3 398,560 395.9,561.5 393.8,562.7 391.7,563.8 389.6,564.7 387.4,565.4 385.3,566 383.2,566.6 381.1,567 379,567.3 376.8,567.6 374.7,567.8 372.6,568 370.5,568.2 368.4,568.3 366.2,568.4 364.1,568.5 362,568.5Z" fill="#b2b2fc" opacity="0.85"/>
<path d="M362,568.5 364.1,568.4 366.2,568.3 368.4,568.2 370.5,568.1 372.6,567.9 374.7,567.7 376.8,567.5 379,567.2 381.1,566.9 383.2,566.4 385.3,565.9 387.4,565.3 389.6,564.6 391.7,563.8 393.8,562.8 395.9,561.6 398,560.3 400.2,558.8 402.3,557 404.4,555 406.5,552.7 408.6,550.1 410.8,547.2 412.9,543.9 415,540.3 417.1,536.4 419.2,532.1 421.4,527.3 423.5,522.2 425.6,516.8 427.7,510.9 429.8,504.7 432,498.2 434.1,491.4 436.2,484.3 438.3,477 440.4,469.6 442.6,462.1 444.7,454.5 446.8,447 448.9,439.7 451,432.5 453.2,425.6 455.3,419.1 457.4,413.1 459.5,407.5 461.6,402.6 463.8,398.3 465.9,394.8 468,392 470.1,390.1 472.2,389 474.4,388.7 476.5,389.3 478.6,390.8 480.7,393 482.8,396.1 485,400 487.1,404.5 489.2,409.7 491.3,415.4 493.4,421.7 495.6,428.3 497.7,435.3 499.8,442.6 501.9,450 504,457.6 506.2,465.1 508.3,472.6 510.4,480 512.5,487.2 514.6,494.1 516.8,500.9 518.9,507.2 521,513.3 523.1,519 525.2,524.3 527.4,529.3 529.5,533.8 531.6,538 533.7,541.8 535.8,545.3 538,548.4 540.1,551.1 542.2,553.6 544.3,555.8 546.4,557.7 548.6,559.4 550.7,560.9 552.8,562.1 554.9,563.2 557,564.1 559.2,564.9 561.3,565.6 563.4,566.2 565.5,566.6 567.6,567 569.8,567.3 571.9,567.6 574,567.8 576.1,568 578.2,568.1 580.4,568.3 582.5,568.4 584.6,568.4 586.7,568.5 588.8,568.5 591,568.6 593.1,568.6 595.2,568.6 597.3,568.6 599.4,568.7 601.6,568.7 603.7,568.7 605.8,568.7 607.9,568.7 610,568.7 612.2,568.7 614.3,568.7 616.4,568.7 616.4,568.7 614.3,568.7 612.2,568.7 610,568.7 607.9,568.7 605.8,568.7 603.7,568.7 601.6,568.7 599.4,568.7 597.3,568.6 595.2,568.6 593.1,568.6 591,568.6 588.8,568.5 586.7,568.5 584.6,568.4 582.5,568.4 580.4,568.3 578.2,568.2 576.1,568 574,567.8 571.9,567.6 569.8,567.3 567.6,567 565.5,566.6 563.4,566.2 561.3,565.6 559.2,564.9 557,564.2 554.9,563.2 552.8,562.2 550.7,560.9 548.6,559.5 546.4,557.8 544.3,555.9 542.2,553.7 540.1,551.3 538,548.5 535.8,545.4 533.7,542 531.6,538.2 529.5,534 527.4,529.5 525.2,524.6 523.1,519.3 521,513.6 518.9,507.6 516.8,501.3 514.6,494.6 512.5,487.7 510.4,480.5 508.3,473.2 506.2,465.7 504,458.2 501.9,450.8 499.8,443.4 497.7,436.2 495.6,429.2 493.4,422.6 491.3,416.4 489.2,410.6 487.1,405.5 485,401 482.8,397.2 480.7,394.1 478.6,391.8 476.5,390.4 474.4,389.8 472.2,390.1 470.1,391.2 468,393.1 465.9,395.9 463.8,399.4 461.6,403.6 459.5,408.5 457.4,414 455.3,420 453.2,426.5 451,433.3 448.9,440.5 446.8,447.8 444.7,455.2 442.6,462.7 440.4,470.2 438.3,477.6 436.2,484.8 434.1,491.9 432,498.6 429.8,505.1 427.7,511.3 425.6,517.1 423.5,522.5 421.4,527.6 419.2,532.3 417.1,536.6 415,540.5 412.9,544.1 410.8,547.3 408.6,550.2 406.5,552.8 404.4,555 402.3,557.1 400.2,558.8 398,560.4 395.9,561.7 393.8,562.8 391.7,563.8 389.6,564.6 387.4,565.4 385.3,566 383.2,566.5 381.1,566.9 379,567.2 376.8,567.5 374.7,567.7 372.6,567.9 370.5,568.1 368.4,568.2 366.2,568.3 364.1,568.4 362,568.5Z" fill="#a9cf9c" opacity="0.85"/>
<path d="M362,568.4 364.1,568.3 366.2,568.2 368.4,568.1 370.5,567.9 372.6,567.8 374.7,567.5 376.8,567.3 379,567 381.1,566.6 383.2,566.2 385.3,565.7 387.4,565.1 389.6,564.4 391.7,563.6 393.8,562.6 395.9,561.6 398,560.3 400.2,559 402.3,557.4 404.4,555.6 406.5,553.7 408.6,551.5 410.8,549.1 412.9,546.4 415,543.5 417.1,540.3 419.2,536.9 421.4,533.2 423.5,529.2 425.6,525 427.7,520.5 429.8,515.9 432,511 434.1,505.9 436.2,500.7 438.3,495.4 440.4,490 442.6,484.6 444.7,479.2 446.8,473.8 448.9,468.6 451,463.5 453.2,458.7 455.3,454.1 457.4,449.9 459.5,446 461.6,442.6 463.8,439.6 465.9,437.1 468,435.1 470.1,433.8 472.2,432.9 474.4,432.7 476.5,433.1 478.6,434 480.7,435.5 482.8,437.6 485,440.1 487.1,443.2 489.2,446.8 491.3,450.7 493.4,455 495.6,459.6 497.7,464.5 499.8,469.6 501.9,474.9 504,480.3 506.2,485.7 508.3,491.1 510.4,496.5 512.5,501.8 514.6,506.9 516.8,512 518.9,516.8 521,521.4 523.1,525.8 525.2,530 527.4,533.9 529.5,537.6 531.6,540.9 533.7,544.1 535.8,546.9 538,549.6 540.1,551.9 542.2,554.1 544.3,556 546.4,557.7 548.6,559.2 550.7,560.6 552.8,561.8 554.9,562.8 557,563.7 559.2,564.5 561.3,565.2 563.4,565.8 565.5,566.3 567.6,566.7 569.8,567 571.9,567.3 574,567.6 576.1,567.8 578.2,568 580.4,568.1 582.5,568.2 584.6,568.3 586.7,568.4 588.8,568.5 591,568.5 593.1,568.6 595.2,568.6 597.3,568.6 599.4,568.6 601.6,568.6 603.7,568.7 605.8,568.7 607.9,568.7 610,568.7 612.2,568.7 614.3,568.7 616.4,568.7 616.4,568.7 614.3,568.7 612.2,568.7 610,568.7 607.9,568.7 605.8,568.7 603.7,568.7 601.6,568.6 599.4,568.6 597.3,568.6 595.2,568.6 593.1,568.6 591,568.5 588.8,568.5 586.7,568.4 584.6,568.3 582.5,568.2 580.4,568.1 578.2,568 576.1,567.8 574,567.6 571.9,567.3 569.8,567 567.6,566.7 565.5,566.3 563.4,565.8 561.3,565.2 559.2,564.5 557,563.8 554.9,562.9 552.8,561.8 550.7,560.7 548.6,559.3 546.4,557.8 544.3,556.1 542.2,554.2 540.1,552.1 538,549.7 535.8,547.1 533.7,544.3 531.6,541.2 529.5,537.8 527.4,534.2 525.2,530.3 523.1,526.2 521,521.8 518.9,517.2 516.8,512.4 514.6,507.4 512.5,502.3 510.4,497.1 508.3,491.7 506.2,486.3 504,481 501.9,475.6 499.8,470.4 497.7,465.4 495.6,460.5 493.4,455.9 491.3,451.7 489.2,447.7 487.1,444.2 485,441.2 482.8,438.6 480.7,436.6 478.6,435.1 476.5,434.1 474.4,433.8 472.2,434 470.1,434.8 468,436.2 465.9,438.2 463.8,440.6 461.6,443.6 459.5,447 457.4,450.8 455.3,455 453.2,459.6 451,464.4 448.9,469.4 446.8,474.6 444.7,479.9 442.6,485.3 440.4,490.6 438.3,496 436.2,501.3 434.1,506.4 432,511.4 429.8,516.3 427.7,520.9 425.6,525.3 423.5,529.5 421.4,533.4 419.2,537.1 417.1,540.5 415,543.7 412.9,546.6 410.8,549.2 408.6,551.6 406.5,553.8 404.4,555.7 402.3,557.5 400.2,559 398,560.4 395.9,561.6 393.8,562.7 391.7,563.6 389.6,564.4 387.4,565.1 385.3,565.7 383.2,566.2 381.1,566.6 379,567 376.8,567.3 374.7,567.5 372.6,567.8 370.5,567.9 368.4,568.1 366.2,568.2 364.1,568.3 362,568.4Z" fill="#eea7a7" opacity="0.85"/>
<path d="M362,568.5 364.1,568.4 366.2,568.3 368.4,568.2 370.5,568.1 372.6,567.9 374.7,567.7 376.8,567.4 379,567.1 381.1,566.7 383.2,566.3 385.3,565.7 387.4,565 389.6,564.2 391.7,563.2 393.8,562.1 395.9,560.7 398,559.1 400.2,557.3 402.3,555.2 404.4,552.8 406.5,550 408.6,546.8 410.8,543.3 412.9,539.3 415,534.8 417.1,529.9 419.2,524.5 421.4,518.6 423.5,512.2 425.6,505.3 427.7,497.9 429.8,490 432,481.7 434.1,472.9 436.2,463.9 438.3,454.5 440.4,444.9 442.6,435.2 444.7,425.5 446.8,415.8 448.9,406.2 451,397 453.2,388.1 455.3,379.7 457.4,371.8 459.5,364.7 461.6,358.4 463.8,353 465.9,348.5 468,345.1 470.1,342.7 472.2,341.5 474.4,341.3 476.5,342.4 478.6,344.5 480.7,347.7 482.8,352 485,357.2 487.1,363.4 489.2,370.4 491.3,378 493.4,386.3 495.6,395.2 497.7,404.4 499.8,413.9 501.9,423.5 504,433.3 506.2,443 508.3,452.6 510.4,462 512.5,471.2 514.6,480 516.8,488.4 518.9,496.3 521,503.8 523.1,510.9 525.2,517.4 527.4,523.4 529.5,528.9 531.6,533.9 533.7,538.4 535.8,542.5 538,546.1 540.1,549.4 542.2,552.2 544.3,554.7 546.4,556.9 548.6,558.8 550.7,560.4 552.8,561.8 554.9,563 557,564 559.2,564.9 561.3,565.6 563.4,566.2 565.5,566.7 567.6,567.1 569.8,567.4 571.9,567.7 574,567.9 576.1,568.1 578.2,568.2 580.4,568.3 582.5,568.4 584.6,568.5 586.7,568.5 588.8,568.6 591,568.6 593.1,568.6 595.2,568.6 597.3,568.7 599.4,568.7 601.6,568.7 603.7,568.7 605.8,568.7 607.9,568.7 610,568.7 612.2,568.7 614.3,568.7 616.4,568.7" fill="none" stroke="#1c1cff" stroke-width="1.45"/>
<path d="M362,568.5 364.1,568.4 366.2,568.3 368.4,568.2 370.5,568.1 372.6,567.9 374.7,567.7 376.8,567.5 379,567.2 381.1,566.9 383.2,566.5 385.3,565.9 387.4,565.3 389.6,564.6 391.7,563.8 393.8,562.8 395.9,561.7 398,560.3 400.2,558.8 402.3,557 404.4,555 406.5,552.7 408.6,550.1 410.8,547.2 412.9,544 415,540.4 417.1,536.5 419.2,532.2 421.4,527.5 423.5,522.4 425.6,516.9 427.7,511.1 429.8,504.9 432,498.4 434.1,491.6 436.2,484.6 438.3,477.3 440.4,469.9 442.6,462.4 444.7,454.9 446.8,447.4 448.9,440.1 451,432.9 453.2,426.1 455.3,419.6 457.4,413.5 459.5,408 461.6,403.1 463.8,398.9 465.9,395.3 468,392.6 470.1,390.6 472.2,389.5 474.4,389.3 476.5,389.9 478.6,391.3 480.7,393.6 482.8,396.6 485,400.5 487.1,405 489.2,410.2 491.3,415.9 493.4,422.1 495.6,428.8 497.7,435.7 499.8,443 501.9,450.4 504,457.9 506.2,465.4 508.3,472.9 510.4,480.2 512.5,487.4 514.6,494.4 516.8,501.1 518.9,507.4 521,513.5 523.1,519.2 525.2,524.5 527.4,529.4 529.5,533.9 531.6,538.1 533.7,541.9 535.8,545.3 538,548.4 540.1,551.2 542.2,553.7 544.3,555.8 546.4,557.8 548.6,559.4 550.7,560.9 552.8,562.1 554.9,563.2 557,564.1 559.2,564.9 561.3,565.6 563.4,566.2 565.5,566.6 567.6,567 569.8,567.3 571.9,567.6 574,567.8 576.1,568 578.2,568.2 580.4,568.3 582.5,568.4 584.6,568.4 586.7,568.5 588.8,568.5 591,568.6 593.1,568.6 595.2,568.6 597.3,568.6 599.4,568.7 601.6,568.7 603.7,568.7 605.8,568.7 607.9,568.7 610,568.7 612.2,568.7 614.3,568.7 616.4,568.7" fill="none" stroke="#2f7a1c" stroke-width="1.45"/>
<path d="M362,568.4 364.1,568.3 366.2,568.2 368.4,568.1 370.5,567.9 372.6,567.8 374.7,567.5 376.8,567.3 379,567 381.1,566.6 383.2,566.2 385.3,565.7 387.4,565.1 389.6,564.4 391.7,563.6 393.8,562.6 395.9,561.6 398,560.4 400.2,559 402.3,557.4 404.4,555.7 406.5,553.7 408.6,551.5 410.8,549.1 412.9,546.5 415,543.6 417.1,540.4 419.2,537 421.4,533.3 423.5,529.4 425.6,525.2 427.7,520.7 429.8,516.1 432,511.2 434.1,506.2 436.2,501 438.3,495.7 440.4,490.3 442.6,484.9 444.7,479.5 446.8,474.2 448.9,469 451,464 453.2,459.1 455.3,454.6 457.4,450.4 459.5,446.5 461.6,443.1 463.8,440.1 465.9,437.6 468,435.7 470.1,434.3 472.2,433.5 474.4,433.2 476.5,433.6 478.6,434.5 480.7,436 482.8,438.1 485,440.7 487.1,443.7 489.2,447.2 491.3,451.2 493.4,455.5 495.6,460.1 497.7,464.9 499.8,470 501.9,475.3 504,480.6 506.2,486 508.3,491.4 510.4,496.8 512.5,502 514.6,507.2 516.8,512.2 518.9,517 521,521.6 523.1,526 525.2,530.2 527.4,534.1 529.5,537.7 531.6,541.1 533.7,544.2 535.8,547 538,549.6 540.1,552 542.2,554.1 544.3,556.1 546.4,557.8 548.6,559.3 550.7,560.6 552.8,561.8 554.9,562.8 557,563.7 559.2,564.5 561.3,565.2 563.4,565.8 565.5,566.3 567.6,566.7 569.8,567 571.9,567.3 574,567.6 576.1,567.8 578.2,568 580.4,568.1 582.5,568.2 584.6,568.3 586.7,568.4 588.8,568.5 591,568.5 593.1,568.6 595.2,568.6 597.3,568.6 599.4,568.6 601.6,568.6 603.7,568.7 605.8,568.7 607.9,568.7 610,568.7 612.2,568.7 614.3,568.7 616.4,568.7" fill="none" stroke="#d0202a" stroke-width="1.45"/>
<path d="M364.1,565.9V570.9" stroke="#1c1cff" stroke-width="0.8" opacity="0.6"/><circle cx="364.1" cy="568.4" r="1.5" fill="#1c1cff"/>
<path d="M389.6,561.7V566.7" stroke="#1c1cff" stroke-width="0.8" opacity="0.6"/><circle cx="389.6" cy="564.2" r="1.5" fill="#1c1cff"/>
<path d="M415,532.3V537.3" stroke="#1c1cff" stroke-width="0.8" opacity="0.6"/><circle cx="415" cy="534.8" r="1.5" fill="#1c1cff"/>
<path d="M440.4,442.4V447.4" stroke="#1c1cff" stroke-width="0.8" opacity="0.6"/><circle cx="440.4" cy="444.9" r="1.5" fill="#1c1cff"/>
<path d="M465.9,346V351" stroke="#1c1cff" stroke-width="0.8" opacity="0.6"/><circle cx="465.9" cy="348.5" r="1.5" fill="#1c1cff"/>
<path d="M491.3,375.5V380.5" stroke="#1c1cff" stroke-width="0.8" opacity="0.6"/><circle cx="491.3" cy="378" r="1.5" fill="#1c1cff"/>
<path d="M516.8,485.9V490.9" stroke="#1c1cff" stroke-width="0.8" opacity="0.6"/><circle cx="516.8" cy="488.4" r="1.5" fill="#1c1cff"/>
<path d="M542.2,549.7V554.7" stroke="#1c1cff" stroke-width="0.8" opacity="0.6"/><circle cx="542.2" cy="552.2" r="1.5" fill="#1c1cff"/>
<path d="M567.6,564.6V569.6" stroke="#1c1cff" stroke-width="0.8" opacity="0.6"/><circle cx="567.6" cy="567.1" r="1.5" fill="#1c1cff"/>
<path d="M593.1,566.1V571.1" stroke="#1c1cff" stroke-width="0.8" opacity="0.6"/><circle cx="593.1" cy="568.6" r="1.5" fill="#1c1cff"/>
<path d="M364.1,565.9V570.9" stroke="#2f7a1c" stroke-width="0.8" opacity="0.6"/><circle cx="364.1" cy="568.4" r="1.5" fill="#2f7a1c"/>
<path d="M389.6,562.1V567.1" stroke="#2f7a1c" stroke-width="0.8" opacity="0.6"/><circle cx="389.6" cy="564.6" r="1.5" fill="#2f7a1c"/>
<path d="M415,537.9V542.9" stroke="#2f7a1c" stroke-width="0.8" opacity="0.6"/><circle cx="415" cy="540.4" r="1.5" fill="#2f7a1c"/>
<path d="M440.4,467.4V472.4" stroke="#2f7a1c" stroke-width="0.8" opacity="0.6"/><circle cx="440.4" cy="469.9" r="1.5" fill="#2f7a1c"/>
<path d="M465.9,392.8V397.8" stroke="#2f7a1c" stroke-width="0.8" opacity="0.6"/><circle cx="465.9" cy="395.3" r="1.5" fill="#2f7a1c"/>
<path d="M491.3,413.4V418.4" stroke="#2f7a1c" stroke-width="0.8" opacity="0.6"/><circle cx="491.3" cy="415.9" r="1.5" fill="#2f7a1c"/>
<path d="M516.8,498.6V503.6" stroke="#2f7a1c" stroke-width="0.8" opacity="0.6"/><circle cx="516.8" cy="501.1" r="1.5" fill="#2f7a1c"/>
<path d="M542.2,551.2V556.2" stroke="#2f7a1c" stroke-width="0.8" opacity="0.6"/><circle cx="542.2" cy="553.7" r="1.5" fill="#2f7a1c"/>
<path d="M567.6,564.5V569.5" stroke="#2f7a1c" stroke-width="0.8" opacity="0.6"/><circle cx="567.6" cy="567" r="1.5" fill="#2f7a1c"/>
<path d="M593.1,566.1V571.1" stroke="#2f7a1c" stroke-width="0.8" opacity="0.6"/><circle cx="593.1" cy="568.6" r="1.5" fill="#2f7a1c"/>
<path d="M364.1,565.8V570.8" stroke="#d0202a" stroke-width="0.8" opacity="0.6"/><circle cx="364.1" cy="568.3" r="1.5" fill="#d0202a"/>
<path d="M389.6,561.9V566.9" stroke="#d0202a" stroke-width="0.8" opacity="0.6"/><circle cx="389.6" cy="564.4" r="1.5" fill="#d0202a"/>
<path d="M415,541.1V546.1" stroke="#d0202a" stroke-width="0.8" opacity="0.6"/><circle cx="415" cy="543.6" r="1.5" fill="#d0202a"/>
<path d="M440.4,487.8V492.8" stroke="#d0202a" stroke-width="0.8" opacity="0.6"/><circle cx="440.4" cy="490.3" r="1.5" fill="#d0202a"/>
<path d="M465.9,435.1V440.1" stroke="#d0202a" stroke-width="0.8" opacity="0.6"/><circle cx="465.9" cy="437.6" r="1.5" fill="#d0202a"/>
<path d="M491.3,448.7V453.7" stroke="#d0202a" stroke-width="0.8" opacity="0.6"/><circle cx="491.3" cy="451.2" r="1.5" fill="#d0202a"/>
<path d="M516.8,509.7V514.7" stroke="#d0202a" stroke-width="0.8" opacity="0.6"/><circle cx="516.8" cy="512.2" r="1.5" fill="#d0202a"/>
<path d="M542.2,551.6V556.6" stroke="#d0202a" stroke-width="0.8" opacity="0.6"/><circle cx="542.2" cy="554.1" r="1.5" fill="#d0202a"/>
<path d="M567.6,564.2V569.2" stroke="#d0202a" stroke-width="0.8" opacity="0.6"/><circle cx="567.6" cy="566.7" r="1.5" fill="#d0202a"/>
<path d="M593.1,566.1V571.1" stroke="#d0202a" stroke-width="0.8" opacity="0.6"/><circle cx="593.1" cy="568.6" r="1.5" fill="#d0202a"/>
</g>
<rect x="362" y="325.5" width="254.4" height="254.5" fill="none" stroke="#a4a4a4" stroke-width="1.1"/>
<path d="M362,580V582.2" stroke="#a4a4a4" stroke-width="0.9"/>
<path d="M404.4,580V582.2" stroke="#a4a4a4" stroke-width="0.9"/>
<path d="M446.8,580V582.2" stroke="#a4a4a4" stroke-width="0.9"/>
<path d="M489.2,580V582.2" stroke="#a4a4a4" stroke-width="0.9"/>
<path d="M531.6,580V582.2" stroke="#a4a4a4" stroke-width="0.9"/>
<path d="M574,580V582.2" stroke="#a4a4a4" stroke-width="0.9"/>
<path d="M616.4,580V582.2" stroke="#a4a4a4" stroke-width="0.9"/>
<path d="M359.8,568.7H362" stroke="#a4a4a4" stroke-width="0.9"/>
<path d="M359.8,534.43H362" stroke="#a4a4a4" stroke-width="0.9"/>
<path d="M359.8,500.15H362" stroke="#a4a4a4" stroke-width="0.9"/>
<path d="M359.8,465.88H362" stroke="#a4a4a4" stroke-width="0.9"/>
<path d="M359.8,431.6H362" stroke="#a4a4a4" stroke-width="0.9"/>
<path d="M359.8,397.33H362" stroke="#a4a4a4" stroke-width="0.9"/>
<path d="M359.8,363.05H362" stroke="#a4a4a4" stroke-width="0.9"/>
<path d="M359.8,328.78H362" stroke="#a4a4a4" stroke-width="0.9"/>
<rect x="510.7" y="330.5" width="99.6" height="52" rx="2.5" fill="#fff" fill-opacity="0.8" stroke="#dcdcdc" stroke-width="1"/>
<path d="M526.1,333.85V345.25" stroke="#1c1cff" stroke-width="1.2" opacity="0.6"/><circle cx="526.1" cy="339.55" r="1.6" fill="#1c1cff"/>
<path d="M526.1,349.75V361.15" stroke="#2f7a1c" stroke-width="1.2" opacity="0.6"/><circle cx="526.1" cy="355.45" r="1.6" fill="#2f7a1c"/>
<path d="M526.1,365.65V377.05" stroke="#d0202a" stroke-width="1.2" opacity="0.6"/><circle cx="526.1" cy="371.35" r="1.6" fill="#d0202a"/>
<text transform="matrix(0.14,0,0,0.11,39.95,284.99)" font-size="100" fill="#000" stroke="#000" stroke-width="0.35" vector-effect="non-scaling-stroke" style="font-family:'Liberation Sans',sans-serif;font-weight:bold;">60</text>
<text transform="matrix(0.14,0,0,0.11,82.36,284.99)" font-size="100" fill="#000" stroke="#000" stroke-width="0.35" vector-effect="non-scaling-stroke" style="font-family:'Liberation Sans',sans-serif;font-weight:bold;">70</text>
<text transform="matrix(0.13,0,0,0.11,124.92,284.99)" font-size="100" fill="#000" stroke="#000" stroke-width="0.35" vector-effect="non-scaling-stroke" style="font-family:'Liberation Sans',sans-serif;font-weight:bold;">80</text>
<text transform="matrix(0.14,0,0,0.11,167.2,284.99)" font-size="100" fill="#000" stroke="#000" stroke-width="0.35" vector-effect="non-scaling-stroke" style="font-family:'Liberation Sans',sans-serif;font-weight:bold;">90</text>
<text transform="matrix(0.14,0,0,0.11,205.5,284.99)" font-size="100" fill="#000" stroke="#000" stroke-width="0.35" vector-effect="non-scaling-stroke" style="font-family:'Liberation Sans',sans-serif;font-weight:bold;">100</text>
<text transform="matrix(0.14,0,0,0.11,247.88,284.99)" font-size="100" fill="#000" stroke="#000" stroke-width="0.35" vector-effect="non-scaling-stroke" style="font-family:'Liberation Sans',sans-serif;font-weight:bold;">110</text>
<text transform="matrix(0.14,0,0,0.11,290.33,284.99)" font-size="100" fill="#000" stroke="#000" stroke-width="0.35" vector-effect="non-scaling-stroke" style="font-family:'Liberation Sans',sans-serif;font-weight:bold;">120</text>
<text transform="matrix(0.14,0,0,0.11,36,264.64)" font-size="100" fill="#000" stroke="#000" stroke-width="0.35" vector-effect="non-scaling-stroke" style="font-family:'Liberation Sans',sans-serif;font-weight:bold;">0</text>
<text transform="matrix(0.13,0,0,0.12,36.15,216.37)" font-size="100" fill="#000" stroke="#000" stroke-width="0.35" vector-effect="non-scaling-stroke" style="font-family:'Liberation Sans',sans-serif;font-weight:bold;">2</text>
<text transform="matrix(0.12,0,0,0.12,36.3,167.99)" font-size="100" fill="#000" stroke="#000" stroke-width="0.35" vector-effect="non-scaling-stroke" style="font-family:'Liberation Sans',sans-serif;font-weight:bold;">4</text>
<text transform="matrix(0.13,0,0,0.11,36.01,119.5)" font-size="100" fill="#000" stroke="#000" stroke-width="0.35" vector-effect="non-scaling-stroke" style="font-family:'Liberation Sans',sans-serif;font-weight:bold;">6</text>
<text transform="matrix(0.13,0,0,0.11,36.16,71.12)" font-size="100" fill="#000" stroke="#000" stroke-width="0.35" vector-effect="non-scaling-stroke" style="font-family:'Liberation Sans',sans-serif;font-weight:bold;">8</text>
<text transform="matrix(0.14,0,0,0.11,28.05,22.74)" font-size="100" fill="#000" stroke="#000" stroke-width="0.35" vector-effect="non-scaling-stroke" style="font-family:'Liberation Sans',sans-serif;font-weight:bold;">10</text>
<text transform="matrix(0.08,0,0,0.08,90.02,30.85)" font-size="100" fill="#1c1cff" stroke="#1c1cff" stroke-width="0.35" vector-effect="non-scaling-stroke" style="font-family:'Liberation Sans',sans-serif;font-style:italic;font-weight:bold;">λ</text>
<text transform="matrix(0.1,0,0,0.07,96.51,30.83)" font-size="100" fill="#1c1cff" stroke="#1c1cff" stroke-width="0.35" vector-effect="non-scaling-stroke" style="font-family:'Liberation Sans',sans-serif;font-weight:bold;">=</text>
<text transform="matrix(0.09,0,0,0.08,103.62,31.02)" font-size="100" fill="#1c1cff" stroke="#1c1cff" stroke-width="0.35" vector-effect="non-scaling-stroke" style="font-family:'Liberation Sans',sans-serif;font-weight:bold;">86.00±0.10</text>
<text transform="matrix(0.08,0,0,0.08,90.02,64.6)" font-size="100" fill="#2f7a1c" stroke="#2f7a1c" stroke-width="0.35" vector-effect="non-scaling-stroke" style="font-family:'Liberation Sans',sans-serif;font-style:italic;font-weight:bold;">λ</text>
<text transform="matrix(0.1,0,0,0.07,96.51,64.58)" font-size="100" fill="#2f7a1c" stroke="#2f7a1c" stroke-width="0.35" vector-effect="non-scaling-stroke" style="font-family:'Liberation Sans',sans-serif;font-weight:bold;">=</text>
<text transform="matrix(0.09,0,0,0.08,103.62,64.77)" font-size="100" fill="#2f7a1c" stroke="#2f7a1c" stroke-width="0.35" vector-effect="non-scaling-stroke" style="font-family:'Liberation Sans',sans-serif;font-weight:bold;">85.76±0.13</text>
<text transform="matrix(0.08,0,0,0.08,90.02,113.2)" font-size="100" fill="#d0202a" stroke="#d0202a" stroke-width="0.35" vector-effect="non-scaling-stroke" style="font-family:'Liberation Sans',sans-serif;font-style:italic;font-weight:bold;">λ</text>
<text transform="matrix(0.1,0,0,0.07,96.51,113.18)" font-size="100" fill="#d0202a" stroke="#d0202a" stroke-width="0.35" vector-effect="non-scaling-stroke" style="font-family:'Liberation Sans',sans-serif;font-weight:bold;">=</text>
<text transform="matrix(0.09,0,0,0.08,103.62,113.37)" font-size="100" fill="#d0202a" stroke="#d0202a" stroke-width="0.35" vector-effect="non-scaling-stroke" style="font-family:'Liberation Sans',sans-serif;font-weight:bold;">85.91±0.10</text>
<text transform="matrix(0.14,0,0,0.11,231.45,36.34)" font-size="100" fill="#000" stroke="#000" stroke-width="0.35" vector-effect="non-scaling-stroke" style="font-family:'Liberation Sans',sans-serif;font-weight:bold;">E3=55 eV</text>
<text transform="matrix(0.14,0,0,0.11,231.44,52.24)" font-size="100" fill="#000" stroke="#000" stroke-width="0.35" vector-effect="non-scaling-stroke" style="font-family:'Liberation Sans',sans-serif;font-weight:bold;">E2=29</text>
<text transform="matrix(0.14,0,0,0.11,231.44,68.14)" font-size="100" fill="#000" stroke="#000" stroke-width="0.35" vector-effect="non-scaling-stroke" style="font-family:'Liberation Sans',sans-serif;font-weight:bold;">E1=15</text>
<text transform="matrix(0.14,0,0,0.11,354.45,285.99)" font-size="100" fill="#000" stroke="#000" stroke-width="0.35" vector-effect="non-scaling-stroke" style="font-family:'Liberation Sans',sans-serif;font-weight:bold;">60</text>
<text transform="matrix(0.14,0,0,0.11,396.86,285.99)" font-size="100" fill="#000" stroke="#000" stroke-width="0.35" vector-effect="non-scaling-stroke" style="font-family:'Liberation Sans',sans-serif;font-weight:bold;">70</text>
<text transform="matrix(0.13,0,0,0.11,439.42,285.99)" font-size="100" fill="#000" stroke="#000" stroke-width="0.35" vector-effect="non-scaling-stroke" style="font-family:'Liberation Sans',sans-serif;font-weight:bold;">80</text>
<text transform="matrix(0.14,0,0,0.11,481.7,285.99)" font-size="100" fill="#000" stroke="#000" stroke-width="0.35" vector-effect="non-scaling-stroke" style="font-family:'Liberation Sans',sans-serif;font-weight:bold;">90</text>
<text transform="matrix(0.14,0,0,0.11,520,285.99)" font-size="100" fill="#000" stroke="#000" stroke-width="0.35" vector-effect="non-scaling-stroke" style="font-family:'Liberation Sans',sans-serif;font-weight:bold;">100</text>
<text transform="matrix(0.14,0,0,0.11,562.38,285.99)" font-size="100" fill="#000" stroke="#000" stroke-width="0.35" vector-effect="non-scaling-stroke" style="font-family:'Liberation Sans',sans-serif;font-weight:bold;">110</text>
<text transform="matrix(0.14,0,0,0.11,604.83,285.99)" font-size="100" fill="#000" stroke="#000" stroke-width="0.35" vector-effect="non-scaling-stroke" style="font-family:'Liberation Sans',sans-serif;font-weight:bold;">120</text>
<text transform="matrix(0.14,0,0,0.11,350.8,266.44)" font-size="100" fill="#000" stroke="#000" stroke-width="0.35" vector-effect="non-scaling-stroke" style="font-family:'Liberation Sans',sans-serif;font-weight:bold;">0</text>
<text transform="matrix(0.13,0,0,0.12,350.95,228.21)" font-size="100" fill="#000" stroke="#000" stroke-width="0.35" vector-effect="non-scaling-stroke" style="font-family:'Liberation Sans',sans-serif;font-weight:bold;">2</text>
<text transform="matrix(0.12,0,0,0.12,351.1,189.87)" font-size="100" fill="#000" stroke="#000" stroke-width="0.35" vector-effect="non-scaling-stroke" style="font-family:'Liberation Sans',sans-serif;font-weight:bold;">4</text>
<text transform="matrix(0.13,0,0,0.11,350.81,151.42)" font-size="100" fill="#000" stroke="#000" stroke-width="0.35" vector-effect="non-scaling-stroke" style="font-family:'Liberation Sans',sans-serif;font-weight:bold;">6</text>
<text transform="matrix(0.13,0,0,0.11,350.96,113.08)" font-size="100" fill="#000" stroke="#000" stroke-width="0.35" vector-effect="non-scaling-stroke" style="font-family:'Liberation Sans',sans-serif;font-weight:bold;">8</text>
<text transform="matrix(0.14,0,0,0.11,342.85,74.74)" font-size="100" fill="#000" stroke="#000" stroke-width="0.35" vector-effect="non-scaling-stroke" style="font-family:'Liberation Sans',sans-serif;font-weight:bold;">10</text>
<text transform="matrix(0.14,0,0,0.12,342.85,36.51)" font-size="100" fill="#000" stroke="#000" stroke-width="0.35" vector-effect="non-scaling-stroke" style="font-family:'Liberation Sans',sans-serif;font-weight:bold;">12</text>
<text transform="matrix(0.08,0,0,0.08,404.52,31.1)" font-size="100" fill="#1c1cff" stroke="#1c1cff" stroke-width="0.35" vector-effect="non-scaling-stroke" style="font-family:'Liberation Sans',sans-serif;font-style:italic;font-weight:bold;">λ</text>
<text transform="matrix(0.1,0,0,0.07,411.01,31.08)" font-size="100" fill="#1c1cff" stroke="#1c1cff" stroke-width="0.35" vector-effect="non-scaling-stroke" style="font-family:'Liberation Sans',sans-serif;font-weight:bold;">=</text>
<text transform="matrix(0.09,0,0,0.08,418.12,31.27)" font-size="100" fill="#1c1cff" stroke="#1c1cff" stroke-width="0.35" vector-effect="non-scaling-stroke" style="font-family:'Liberation Sans',sans-serif;font-weight:bold;">86.42±0.10</text>
<text transform="matrix(0.08,0,0,0.08,404.52,77.6)" font-size="100" fill="#2f7a1c" stroke="#2f7a1c" stroke-width="0.35" vector-effect="non-scaling-stroke" style="font-family:'Liberation Sans',sans-serif;font-style:italic;font-weight:bold;">λ</text>
<text transform="matrix(0.1,0,0,0.07,411.01,77.58)" font-size="100" fill="#2f7a1c" stroke="#2f7a1c" stroke-width="0.35" vector-effect="non-scaling-stroke" style="font-family:'Liberation Sans',sans-serif;font-weight:bold;">=</text>
<text transform="matrix(0.09,0,0,0.08,418.12,77.77)" font-size="100" fill="#2f7a1c" stroke="#2f7a1c" stroke-width="0.35" vector-effect="non-scaling-stroke" style="font-family:'Liberation Sans',sans-serif;font-weight:bold;">86.62±0.11</text>
<text transform="matrix(0.08,0,0,0.08,404.52,121.3)" font-size="100" fill="#d0202a" stroke="#d0202a" stroke-width="0.35" vector-effect="non-scaling-stroke" style="font-family:'Liberation Sans',sans-serif;font-style:italic;font-weight:bold;">λ</text>
<text transform="matrix(0.1,0,0,0.07,411.01,121.28)" font-size="100" fill="#d0202a" stroke="#d0202a" stroke-width="0.35" vector-effect="non-scaling-stroke" style="font-family:'Liberation Sans',sans-serif;font-weight:bold;">=</text>
<text transform="matrix(0.09,0,0,0.08,418.12,121.47)" font-size="100" fill="#d0202a" stroke="#d0202a" stroke-width="0.35" vector-effect="non-scaling-stroke" style="font-family:'Liberation Sans',sans-serif;font-weight:bold;">86.66±0.11</text>
<text transform="matrix(0.14,0,0,0.11,545.85,37.24)" font-size="100" fill="#000" stroke="#000" stroke-width="0.35" vector-effect="non-scaling-stroke" style="font-family:'Liberation Sans',sans-serif;font-weight:bold;">E3=55 eV</text>
<text transform="matrix(0.14,0,0,0.11,545.84,53.14)" font-size="100" fill="#000" stroke="#000" stroke-width="0.35" vector-effect="non-scaling-stroke" style="font-family:'Liberation Sans',sans-serif;font-weight:bold;">E2=29</text>
<text transform="matrix(0.14,0,0,0.11,545.84,69.04)" font-size="100" fill="#000" stroke="#000" stroke-width="0.35" vector-effect="non-scaling-stroke" style="font-family:'Liberation Sans',sans-serif;font-weight:bold;">E1=15</text>
<text transform="matrix(0.14,0,0,0.11,40.95,592.19)" font-size="100" fill="#000" stroke="#000" stroke-width="0.35" vector-effect="non-scaling-stroke" style="font-family:'Liberation Sans',sans-serif;font-weight:bold;">60</text>
<text transform="matrix(0.14,0,0,0.11,83.4,592.19)" font-size="100" fill="#000" stroke="#000" stroke-width="0.35" vector-effect="non-scaling-stroke" style="font-family:'Liberation Sans',sans-serif;font-weight:bold;">70</text>
<text transform="matrix(0.13,0,0,0.11,125.99,592.19)" font-size="100" fill="#000" stroke="#000" stroke-width="0.35" vector-effect="non-scaling-stroke" style="font-family:'Liberation Sans',sans-serif;font-weight:bold;">80</text>
<text transform="matrix(0.14,0,0,0.11,168.3,592.19)" font-size="100" fill="#000" stroke="#000" stroke-width="0.35" vector-effect="non-scaling-stroke" style="font-family:'Liberation Sans',sans-serif;font-weight:bold;">90</text>
<text transform="matrix(0.14,0,0,0.11,206.63,592.19)" font-size="100" fill="#000" stroke="#000" stroke-width="0.35" vector-effect="non-scaling-stroke" style="font-family:'Liberation Sans',sans-serif;font-weight:bold;">100</text>
<text transform="matrix(0.14,0,0,0.11,249.05,592.19)" font-size="100" fill="#000" stroke="#000" stroke-width="0.35" vector-effect="non-scaling-stroke" style="font-family:'Liberation Sans',sans-serif;font-weight:bold;">110</text>
<text transform="matrix(0.14,0,0,0.11,291.53,592.19)" font-size="100" fill="#000" stroke="#000" stroke-width="0.35" vector-effect="non-scaling-stroke" style="font-family:'Liberation Sans',sans-serif;font-weight:bold;">120</text>
<text transform="matrix(0.14,0,0,0.11,25.14,572.34)" font-size="100" fill="#000" stroke="#000" stroke-width="0.35" vector-effect="non-scaling-stroke" style="font-family:'Liberation Sans',sans-serif;font-weight:bold;">0.0</text>
<text transform="matrix(0.14,0,0,0.11,25.29,540.11)" font-size="100" fill="#000" stroke="#000" stroke-width="0.35" vector-effect="non-scaling-stroke" style="font-family:'Liberation Sans',sans-serif;font-weight:bold;">2.5</text>
<text transform="matrix(0.14,0,0,0.11,25.29,507.89)" font-size="100" fill="#000" stroke="#000" stroke-width="0.35" vector-effect="non-scaling-stroke" style="font-family:'Liberation Sans',sans-serif;font-weight:bold;">5.0</text>
<text transform="matrix(0.14,0,0,0.12,25.15,475.66)" font-size="100" fill="#000" stroke="#000" stroke-width="0.35" vector-effect="non-scaling-stroke" style="font-family:'Liberation Sans',sans-serif;font-weight:bold;">7.5</text>
<text transform="matrix(0.14,0,0,0.11,17.2,443.44)" font-size="100" fill="#000" stroke="#000" stroke-width="0.35" vector-effect="non-scaling-stroke" style="font-family:'Liberation Sans',sans-serif;font-weight:bold;">10.0</text>
<text transform="matrix(0.14,0,0,0.11,17.21,411.21)" font-size="100" fill="#000" stroke="#000" stroke-width="0.35" vector-effect="non-scaling-stroke" style="font-family:'Liberation Sans',sans-serif;font-weight:bold;">12.5</text>
<text transform="matrix(0.14,0,0,0.11,17.2,378.99)" font-size="100" fill="#000" stroke="#000" stroke-width="0.35" vector-effect="non-scaling-stroke" style="font-family:'Liberation Sans',sans-serif;font-weight:bold;">15.0</text>
<text transform="matrix(0.14,0,0,0.12,17.21,346.76)" font-size="100" fill="#000" stroke="#000" stroke-width="0.35" vector-effect="non-scaling-stroke" style="font-family:'Liberation Sans',sans-serif;font-weight:bold;">17.5</text>
<text transform="matrix(0.08,0,0,0.08,90.92,338.3)" font-size="100" fill="#1c1cff" stroke="#1c1cff" stroke-width="0.35" vector-effect="non-scaling-stroke" style="font-family:'Liberation Sans',sans-serif;font-style:italic;font-weight:bold;">λ</text>
<text transform="matrix(0.1,0,0,0.07,97.41,338.28)" font-size="100" fill="#1c1cff" stroke="#1c1cff" stroke-width="0.35" vector-effect="non-scaling-stroke" style="font-family:'Liberation Sans',sans-serif;font-weight:bold;">=</text>
<text transform="matrix(0.09,0,0,0.08,104.52,338.47)" font-size="100" fill="#1c1cff" stroke="#1c1cff" stroke-width="0.35" vector-effect="non-scaling-stroke" style="font-family:'Liberation Sans',sans-serif;font-weight:bold;">86.85±0.10</text>
<text transform="matrix(0.08,0,0,0.08,90.92,386.5)" font-size="100" fill="#2f7a1c" stroke="#2f7a1c" stroke-width="0.35" vector-effect="non-scaling-stroke" style="font-family:'Liberation Sans',sans-serif;font-style:italic;font-weight:bold;">λ</text>
<text transform="matrix(0.1,0,0,0.07,97.41,386.48)" font-size="100" fill="#2f7a1c" stroke="#2f7a1c" stroke-width="0.35" vector-effect="non-scaling-stroke" style="font-family:'Liberation Sans',sans-serif;font-weight:bold;">=</text>
<text transform="matrix(0.09,0,0,0.08,104.52,386.67)" font-size="100" fill="#2f7a1c" stroke="#2f7a1c" stroke-width="0.35" vector-effect="non-scaling-stroke" style="font-family:'Liberation Sans',sans-serif;font-weight:bold;">86.83±0.10</text>
<text transform="matrix(0.08,0,0,0.08,90.92,423.5)" font-size="100" fill="#d0202a" stroke="#d0202a" stroke-width="0.35" vector-effect="non-scaling-stroke" style="font-family:'Liberation Sans',sans-serif;font-style:italic;font-weight:bold;">λ</text>
<text transform="matrix(0.1,0,0,0.07,97.41,423.48)" font-size="100" fill="#d0202a" stroke="#d0202a" stroke-width="0.35" vector-effect="non-scaling-stroke" style="font-family:'Liberation Sans',sans-serif;font-weight:bold;">=</text>
<text transform="matrix(0.09,0,0,0.08,104.52,423.67)" font-size="100" fill="#d0202a" stroke="#d0202a" stroke-width="0.35" vector-effect="non-scaling-stroke" style="font-family:'Liberation Sans',sans-serif;font-weight:bold;">86.95±0.10</text>
<text transform="matrix(0.14,0,0,0.11,232.35,343.74)" font-size="100" fill="#000" stroke="#000" stroke-width="0.35" vector-effect="non-scaling-stroke" style="font-family:'Liberation Sans',sans-serif;font-weight:bold;">E3=55 eV</text>
<text transform="matrix(0.14,0,0,0.11,232.34,359.64)" font-size="100" fill="#000" stroke="#000" stroke-width="0.35" vector-effect="non-scaling-stroke" style="font-family:'Liberation Sans',sans-serif;font-weight:bold;">E2=29</text>
<text transform="matrix(0.14,0,0,0.11,232.34,375.54)" font-size="100" fill="#000" stroke="#000" stroke-width="0.35" vector-effect="non-scaling-stroke" style="font-family:'Liberation Sans',sans-serif;font-weight:bold;">E1=15</text>
<text transform="matrix(0.14,0,0,0.11,354.45,591.99)" font-size="100" fill="#000" stroke="#000" stroke-width="0.35" vector-effect="non-scaling-stroke" style="font-family:'Liberation Sans',sans-serif;font-weight:bold;">60</text>
<text transform="matrix(0.14,0,0,0.11,396.85,591.99)" font-size="100" fill="#000" stroke="#000" stroke-width="0.35" vector-effect="non-scaling-stroke" style="font-family:'Liberation Sans',sans-serif;font-weight:bold;">70</text>
<text transform="matrix(0.13,0,0,0.11,439.39,591.99)" font-size="100" fill="#000" stroke="#000" stroke-width="0.35" vector-effect="non-scaling-stroke" style="font-family:'Liberation Sans',sans-serif;font-weight:bold;">80</text>
<text transform="matrix(0.14,0,0,0.11,481.65,591.99)" font-size="100" fill="#000" stroke="#000" stroke-width="0.35" vector-effect="non-scaling-stroke" style="font-family:'Liberation Sans',sans-serif;font-weight:bold;">90</text>
<text transform="matrix(0.14,0,0,0.11,519.93,591.99)" font-size="100" fill="#000" stroke="#000" stroke-width="0.35" vector-effect="non-scaling-stroke" style="font-family:'Liberation Sans',sans-serif;font-weight:bold;">100</text>
<text transform="matrix(0.14,0,0,0.11,562.3,591.99)" font-size="100" fill="#000" stroke="#000" stroke-width="0.35" vector-effect="non-scaling-stroke" style="font-family:'Liberation Sans',sans-serif;font-weight:bold;">110</text>
<text transform="matrix(0.14,0,0,0.11,604.73,591.99)" font-size="100" fill="#000" stroke="#000" stroke-width="0.35" vector-effect="non-scaling-stroke" style="font-family:'Liberation Sans',sans-serif;font-weight:bold;">120</text>
<text transform="matrix(0.14,0,0,0.11,338.24,572.64)" font-size="100" fill="#000" stroke="#000" stroke-width="0.35" vector-effect="non-scaling-stroke" style="font-family:'Liberation Sans',sans-serif;font-weight:bold;">0.0</text>
<text transform="matrix(0.14,0,0,0.11,338.39,538.36)" font-size="100" fill="#000" stroke="#000" stroke-width="0.35" vector-effect="non-scaling-stroke" style="font-family:'Liberation Sans',sans-serif;font-weight:bold;">2.5</text>
<text transform="matrix(0.14,0,0,0.11,338.39,504.09)" font-size="100" fill="#000" stroke="#000" stroke-width="0.35" vector-effect="non-scaling-stroke" style="font-family:'Liberation Sans',sans-serif;font-weight:bold;">5.0</text>
<text transform="matrix(0.14,0,0,0.12,338.25,469.81)" font-size="100" fill="#000" stroke="#000" stroke-width="0.35" vector-effect="non-scaling-stroke" style="font-family:'Liberation Sans',sans-serif;font-weight:bold;">7.5</text>
<text transform="matrix(0.14,0,0,0.11,338.24,435.54)" font-size="100" fill="#000" stroke="#000" stroke-width="0.35" vector-effect="non-scaling-stroke" style="font-family:'Liberation Sans',sans-serif;font-weight:bold;">0.0</text>
<text transform="matrix(0.14,0,0,0.11,338.39,401.26)" font-size="100" fill="#000" stroke="#000" stroke-width="0.35" vector-effect="non-scaling-stroke" style="font-family:'Liberation Sans',sans-serif;font-weight:bold;">2.5</text>
<text transform="matrix(0.14,0,0,0.11,338.39,366.99)" font-size="100" fill="#000" stroke="#000" stroke-width="0.35" vector-effect="non-scaling-stroke" style="font-family:'Liberation Sans',sans-serif;font-weight:bold;">5.0</text>
<text transform="matrix(0.14,0,0,0.12,338.25,332.71)" font-size="100" fill="#000" stroke="#000" stroke-width="0.35" vector-effect="non-scaling-stroke" style="font-family:'Liberation Sans',sans-serif;font-weight:bold;">7.5</text>
<text transform="matrix(0.08,0,0,0.08,404.32,340.8)" font-size="100" fill="#1c1cff" stroke="#1c1cff" stroke-width="0.35" vector-effect="non-scaling-stroke" style="font-family:'Liberation Sans',sans-serif;font-style:italic;font-weight:bold;">λ</text>
<text transform="matrix(0.1,0,0,0.07,410.81,340.78)" font-size="100" fill="#1c1cff" stroke="#1c1cff" stroke-width="0.35" vector-effect="non-scaling-stroke" style="font-family:'Liberation Sans',sans-serif;font-weight:bold;">=</text>
<text transform="matrix(0.09,0,0,0.08,417.92,340.97)" font-size="100" fill="#1c1cff" stroke="#1c1cff" stroke-width="0.35" vector-effect="non-scaling-stroke" style="font-family:'Liberation Sans',sans-serif;font-weight:bold;">86.40±0.13</text>
<text transform="matrix(0.08,0,0,0.08,404.32,390.1)" font-size="100" fill="#2f7a1c" stroke="#2f7a1c" stroke-width="0.35" vector-effect="non-scaling-stroke" style="font-family:'Liberation Sans',sans-serif;font-style:italic;font-weight:bold;">λ</text>
<text transform="matrix(0.1,0,0,0.07,410.81,390.08)" font-size="100" fill="#2f7a1c" stroke="#2f7a1c" stroke-width="0.35" vector-effect="non-scaling-stroke" style="font-family:'Liberation Sans',sans-serif;font-weight:bold;">=</text>
<text transform="matrix(0.09,0,0,0.08,417.92,390.27)" font-size="100" fill="#2f7a1c" stroke="#2f7a1c" stroke-width="0.35" vector-effect="non-scaling-stroke" style="font-family:'Liberation Sans',sans-serif;font-weight:bold;">86.52±0.10</text>
<text transform="matrix(0.08,0,0,0.08,404.32,432.8)" font-size="100" fill="#d0202a" stroke="#d0202a" stroke-width="0.35" vector-effect="non-scaling-stroke" style="font-family:'Liberation Sans',sans-serif;font-style:italic;font-weight:bold;">λ</text>
<text transform="matrix(0.1,0,0,0.07,410.81,432.78)" font-size="100" fill="#d0202a" stroke="#d0202a" stroke-width="0.35" vector-effect="non-scaling-stroke" style="font-family:'Liberation Sans',sans-serif;font-weight:bold;">=</text>
<text transform="matrix(0.09,0,0,0.08,417.92,432.97)" font-size="100" fill="#d0202a" stroke="#d0202a" stroke-width="0.35" vector-effect="non-scaling-stroke" style="font-family:'Liberation Sans',sans-serif;font-weight:bold;">86.60±0.10</text>
<text transform="matrix(0.14,0,0,0.11,545.45,343.24)" font-size="100" fill="#000" stroke="#000" stroke-width="0.35" vector-effect="non-scaling-stroke" style="font-family:'Liberation Sans',sans-serif;font-weight:bold;">E3=55 eV</text>
<text transform="matrix(0.14,0,0,0.11,545.44,359.14)" font-size="100" fill="#000" stroke="#000" stroke-width="0.35" vector-effect="non-scaling-stroke" style="font-family:'Liberation Sans',sans-serif;font-weight:bold;">E2=29</text>
<text transform="matrix(0.14,0,0,0.11,545.44,375.04)" font-size="100" fill="#000" stroke="#000" stroke-width="0.35" vector-effect="non-scaling-stroke" style="font-family:'Liberation Sans',sans-serif;font-weight:bold;">E1=15</text>
<text transform="matrix(0.14,0,0,0.14,70.08,11.56)" font-size="100" fill="#1a1a1a" style="font-family:'Liberation Sans',sans-serif;">ε</text>
<text transform="matrix(0.08,0,0,0.1,76.38,16.9)" font-size="100" fill="#1a1a1a" style="font-family:'Liberation Sans',sans-serif;">E</text>
<text transform="matrix(0.13,0,0,0.15,85.15,11.95)" font-size="100" fill="#1a1a1a" style="font-family:'Liberation Sans',sans-serif;">=</text>
<text transform="matrix(0.13,0,0,0.16,95.88,11.54)" font-size="100" fill="#1a1a1a" style="font-family:'Liberation Sans',sans-serif;">0.99</text>
<text transform="matrix(0.08,0,0,0.09,120.38,5.61)" font-size="100" fill="#1a1a1a" style="font-family:'Liberation Sans',sans-serif;">o</text>
<text transform="matrix(0.15,0,0,0.15,128.03,13.09)" font-size="100" fill="#4a4a4a" style="font-family:'Liberation Serif',serif;">+</text>
<text transform="matrix(0.16,0,0,0.16,139.47,11.78)" font-size="100" fill="#4a4a4a" style="font-family:'Liberation Serif',serif;">0.22</text>
<text transform="matrix(0.16,0,0,0.15,166.3,12.88)" font-size="100" fill="#4a4a4a" style="font-family:'Liberation Serif',serif;">°</text>
<text transform="matrix(0.15,0,0,0.12,189.09,12.99)" font-size="100" fill="#1a1a1a" style="font-family:'Liberation Sans',sans-serif;">(near Sun-pointing)</text>
<text transform="matrix(0.14,0,0,0.13,426.69,14.67)" font-size="100" fill="#1a1a1a" style="font-family:'Liberation Sans',sans-serif;">ε</text>
<text transform="matrix(0.09,0,0,0.1,432.2,19.5)" font-size="100" fill="#1a1a1a" style="font-family:'Liberation Sans',sans-serif;">E</text>
<text transform="matrix(0.13,0,0,0.14,441.56,14.39)" font-size="100" fill="#1a1a1a" style="font-family:'Liberation Sans',sans-serif;">=</text>
<text transform="matrix(0.13,0,0,0.15,452.07,14.45)" font-size="100" fill="#1a1a1a" style="font-family:'Liberation Sans',sans-serif;">2.52</text>
<text transform="matrix(0.09,0,0,0.1,476.14,8.6)" font-size="100" fill="#1a1a1a" style="font-family:'Liberation Sans',sans-serif;">o</text>
<text transform="matrix(0.15,0,0,0.15,484.46,16.01)" font-size="100" fill="#4a4a4a" style="font-family:'Liberation Serif',serif;">+</text>
<text transform="matrix(0.16,0,0,0.17,496.15,14.95)" font-size="100" fill="#4a4a4a" style="font-family:'Liberation Serif',serif;">0.3</text>
<text transform="matrix(0.14,0,0,0.15,515.52,16.1)" font-size="100" fill="#4a4a4a" style="font-family:'Liberation Serif',serif;">°</text>
<text transform="matrix(0.15,0,0,0.14,537.11,14.34)" font-size="100" fill="#1a1a1a" style="font-family:'Liberation Sans',sans-serif;">(case A)</text>
<text transform="matrix(0.14,0,0,0.13,63.58,319.67)" font-size="100" fill="#1a1a1a" style="font-family:'Liberation Sans',sans-serif;">ε</text>
<text transform="matrix(0.08,0,0,0.09,69.68,324.5)" font-size="100" fill="#1a1a1a" style="font-family:'Liberation Sans',sans-serif;">E</text>
<text transform="matrix(0.13,0,0,0.11,78.35,319.41)" font-size="100" fill="#1a1a1a" style="font-family:'Liberation Sans',sans-serif;">=</text>
<text transform="matrix(0.13,0,0,0.15,87.97,319.65)" font-size="100" fill="#1a1a1a" style="font-family:'Liberation Sans',sans-serif;">6.18</text>
<text transform="matrix(0.1,0,0,0.09,111.99,314.41)" font-size="100" fill="#1a1a1a" style="font-family:'Liberation Sans',sans-serif;">o</text>
<text transform="matrix(0.15,0,0,0.15,121.26,321.02)" font-size="100" fill="#1a1a1a" style="font-family:'Liberation Sans',sans-serif;">+</text>
<text transform="matrix(0.13,0,0,0.15,133.38,319.75)" font-size="100" fill="#1a1a1a" style="font-family:'Liberation Sans',sans-serif;">1.06</text>
<text transform="matrix(0.08,0,0,0.09,157.57,314.41)" font-size="100" fill="#1a1a1a" style="font-family:'Liberation Sans',sans-serif;">o</text>
<text transform="matrix(0.15,0,0,0.13,426.45,320.07)" font-size="100" fill="#1a1a1a" style="font-family:'Liberation Sans',sans-serif;">ε</text>
<text transform="matrix(0.09,0,0,0.08,432.52,324.5)" font-size="100" fill="#1a1a1a" style="font-family:'Liberation Sans',sans-serif;">E</text>
<text transform="matrix(0.12,0,0,0.12,441.51,320.02)" font-size="100" fill="#1a1a1a" style="font-family:'Liberation Sans',sans-serif;">=</text>
<text transform="matrix(0.13,0,0,0.15,451.97,320.05)" font-size="100" fill="#1a1a1a" style="font-family:'Liberation Sans',sans-serif;">2.19</text>
<text transform="matrix(0.1,0,0,0.09,476.01,314.91)" font-size="100" fill="#1a1a1a" style="font-family:'Liberation Sans',sans-serif;">o</text>
<text transform="matrix(0.15,0,0,0.14,484.46,321.39)" font-size="100" fill="#4a4a4a" style="font-family:'Liberation Serif',serif;">+</text>
<text transform="matrix(0.15,0,0,0.16,496.4,320.14)" font-size="100" fill="#333" style="font-family:'Liberation Serif',serif;">2.13</text>
<text transform="matrix(0.17,0,0,0.16,521.93,322.56)" font-size="100" fill="#333" style="font-family:'Liberation Serif',serif;">°</text>
<text transform="matrix(0.15,0,0,0.12,536.61,320.03)" font-size="100" fill="#1a1a1a" style="font-family:'Liberation Sans',sans-serif;">(case B)</text>
<rect x="338" y="82" width="1" height="1" fill="#888"/><rect x="338" y="107" width="1" height="1" fill="#888"/>
<text transform="translate(22.9,211.8) rotate(-90)" font-size="13.4" stroke="#000" stroke-width="0.35" style="font-family:'Liberation Sans',sans-serif;font-weight:bold" textLength="133.1" lengthAdjust="spacingAndGlyphs">SC frame Rate (s<tspan dy="-4.5" font-size="9.5">−1</tspan><tspan dy="4.5">)</tspan></text>
<text transform="translate(12.2,519.1) rotate(-90)" font-size="13.4" stroke="#000" stroke-width="0.35" style="font-family:'Liberation Sans',sans-serif;font-weight:bold" textLength="133" lengthAdjust="spacingAndGlyphs">SC frame Rate (s<tspan dy="-4.5" font-size="9.5">−1</tspan><tspan dy="4.5">)</tspan></text>
<text x="107.3" y="605.8" font-size="12.5" stroke="#000" stroke-width="0.35" style="font-family:'Liberation Sans',sans-serif;font-weight:bold" textLength="137.2" lengthAdjust="spacingAndGlyphs">NEP (spin) angle ( <tspan font-size="9" dy="-3">°</tspan><tspan dy="3"> )</tspan></text>
<text x="420.2" y="605.8" font-size="12.5" stroke="#000" stroke-width="0.35" style="font-family:'Liberation Sans',sans-serif;font-weight:bold" textLength="137.5" lengthAdjust="spacingAndGlyphs">NEP (spin) angle ( <tspan font-size="9" dy="-3">°</tspan><tspan dy="3"> )</tspan></text></svg></body></html>
